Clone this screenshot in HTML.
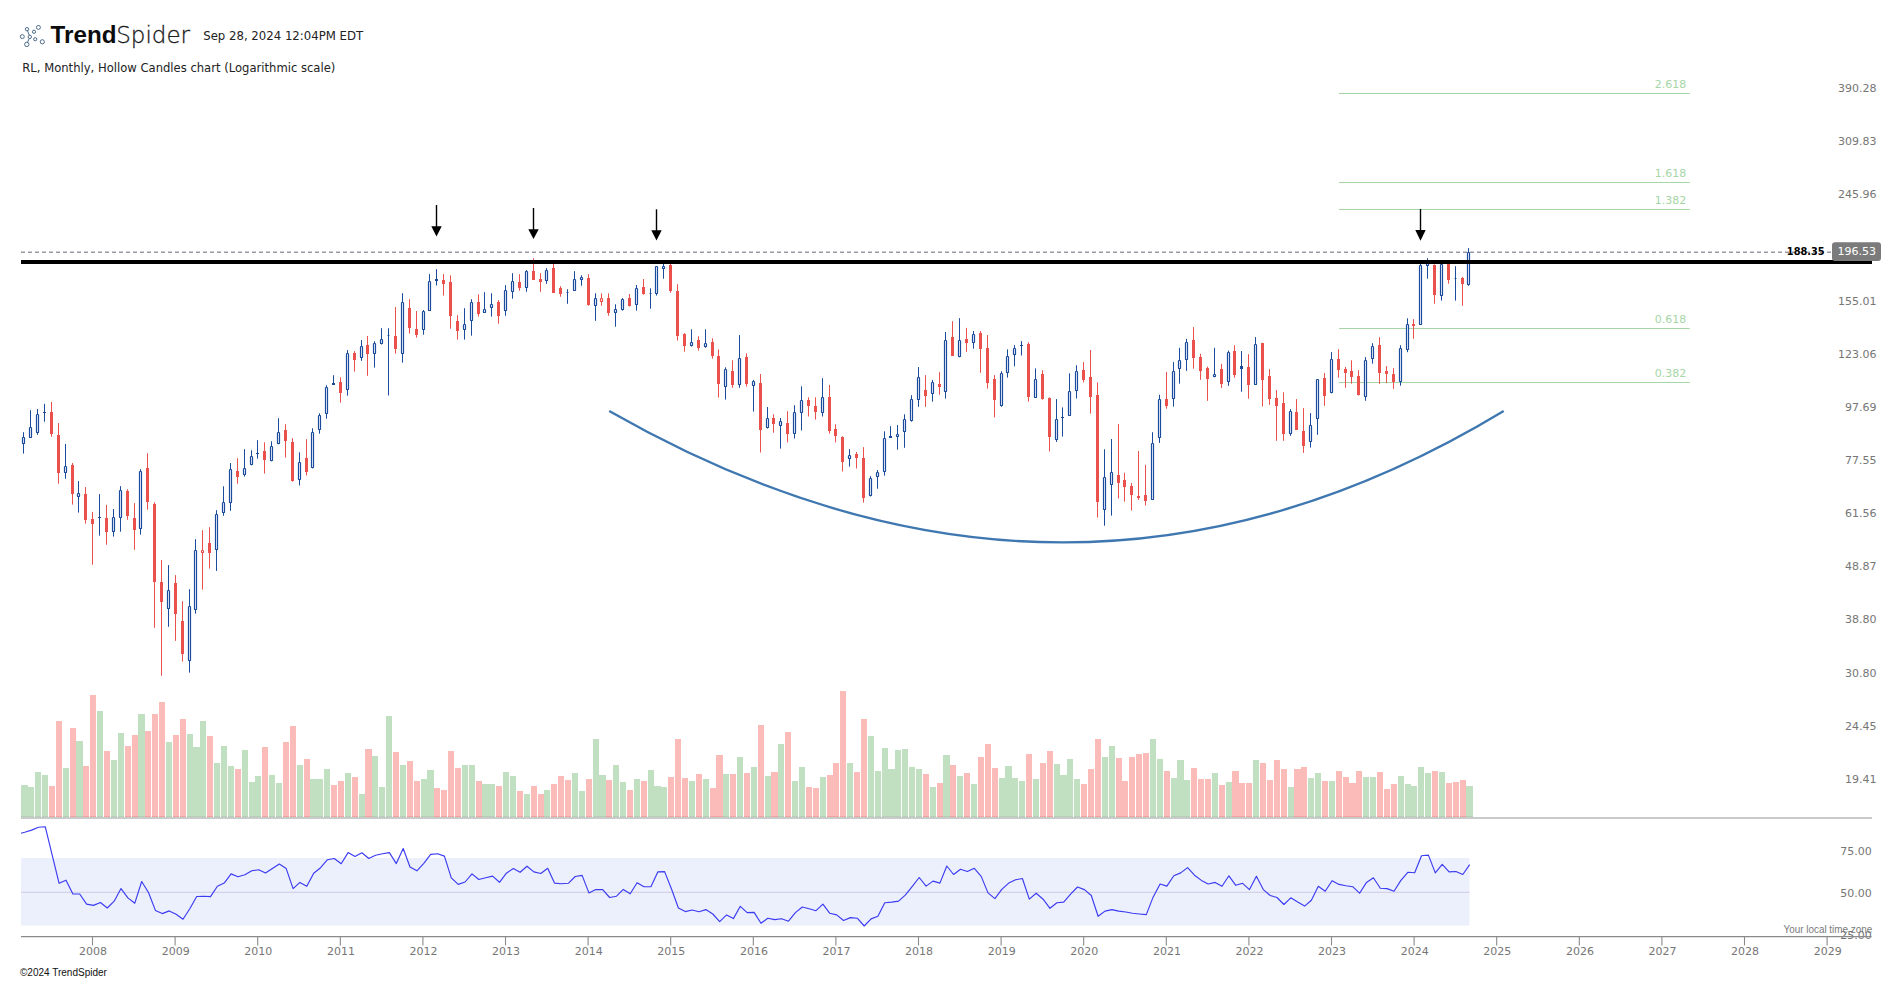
<!DOCTYPE html>
<html lang="en"><head><meta charset="utf-8"><title>RL Monthly - TrendSpider</title>
<style>html,body{margin:0;padding:0;background:#fff;}body{width:1902px;height:982px;overflow:hidden;}svg{display:block;}text{font-family:'DejaVu Sans', 'Liberation Sans', sans-serif;}</style></head><body>
<svg width="1902" height="982" viewBox="0 0 1902 982">
<rect width="1902" height="982" fill="#fff"/>
<g id="rsi">
<rect x="21" y="858" width="1448.5" height="67.5" fill="#eceffc"/>
<line x1="21" y1="892.4" x2="1469.5" y2="892.4" stroke="#d3d2e8" stroke-width="1.4"/>
<polyline points="21,833.2 24.7,832.2 31.6,830.1 38.5,827.2 45.3,826.8 52.2,855.1 59.1,883.3 66.0,880.2 72.9,894.0 79.7,894.0 86.6,904.1 93.5,905.4 100.4,902.5 107.3,908.0 114.2,901.2 121.0,888.6 127.9,897.9 134.8,903.2 141.7,881.5 148.6,892.7 155.4,910.4 162.3,913.6 169.2,910.9 176.1,914.3 183.0,919.2 189.8,908.7 196.7,896.5 203.6,896.2 210.5,896.6 217.4,886.3 224.2,883.1 231.1,873.9 238.0,876.8 244.9,874.8 251.8,870.8 258.7,869.8 265.5,873.1 272.4,868.6 279.3,864.0 286.2,868.6 293.1,888.6 299.9,882.4 306.8,886.3 313.7,873.2 320.6,867.7 327.5,859.7 334.3,858.5 341.2,863.7 348.1,852.6 355.0,856.5 361.9,852.8 368.8,858.5 375.6,855.2 382.5,853.8 389.4,852.6 396.3,863.6 403.2,848.5 410.0,867.0 416.9,870.8 423.8,863.3 430.7,854.4 437.6,853.8 444.4,856.1 451.3,877.8 458.2,884.4 465.1,882.0 472.0,873.9 478.8,879.5 485.7,877.8 492.6,876.1 499.5,882.3 506.4,873.2 513.3,868.6 520.1,872.3 527.0,866.2 533.9,871.9 540.8,873.5 547.7,868.3 554.5,883.1 561.4,883.7 568.3,883.3 575.2,876.5 582.1,875.4 588.9,892.9 595.8,889.6 602.7,889.6 609.6,897.5 616.5,896.2 623.3,889.4 630.2,893.8 637.1,882.7 644.0,886.7 650.9,886.7 657.8,871.9 664.6,871.6 671.5,889.0 678.4,908.0 685.3,911.6 692.2,910.0 699.0,911.7 705.9,909.6 712.8,914.0 719.7,921.6 726.6,914.9 733.4,918.6 740.3,906.3 747.2,912.6 754.1,912.4 761.0,923.2 767.8,918.2 774.7,919.6 781.6,918.7 788.5,921.2 795.4,912.6 802.3,907.0 809.1,908.7 816.0,910.7 822.9,904.1 829.8,913.3 836.7,914.9 843.5,920.5 850.4,917.6 857.3,918.2 864.2,926.0 871.1,918.9 877.9,916.2 884.8,902.8 891.7,902.1 898.6,901.1 905.5,894.9 912.3,886.3 919.2,877.5 926.1,886.1 933.0,881.1 939.9,883.1 946.8,866.0 953.6,874.5 960.5,869.3 967.4,871.5 974.3,868.3 981.2,876.4 988.0,892.9 994.9,898.6 1001.8,889.4 1008.7,883.1 1015.6,879.8 1022.4,878.5 1029.3,899.1 1036.2,893.2 1043.1,899.2 1050.0,908.3 1056.9,902.8 1063.7,902.1 1070.6,894.2 1077.5,887.0 1084.4,889.6 1091.3,895.5 1098.1,916.3 1105.0,911.1 1111.9,909.6 1118.8,911.1 1125.7,912.0 1132.5,913.3 1139.4,914.0 1146.3,914.6 1153.2,896.9 1160.1,884.0 1166.9,886.1 1173.8,875.8 1180.7,872.9 1187.6,867.6 1194.5,875.2 1201.4,880.4 1208.2,884.0 1215.1,882.4 1222.0,886.3 1228.9,875.8 1235.8,885.3 1242.6,883.3 1249.5,889.6 1256.4,876.2 1263.3,889.6 1270.2,895.5 1277.0,897.5 1283.9,904.5 1290.8,897.8 1297.7,902.1 1304.6,906.1 1311.4,900.2 1318.3,886.3 1325.2,891.2 1332.1,880.7 1339.0,884.4 1345.9,885.7 1352.7,886.7 1359.6,893.2 1366.5,882.4 1373.4,877.8 1380.3,888.3 1387.1,888.6 1394.0,891.3 1400.9,880.4 1407.8,872.3 1414.7,872.8 1421.5,855.7 1428.4,855.1 1435.3,872.9 1442.2,864.3 1449.1,871.9 1455.9,871.5 1462.8,874.5 1469.7,864.7" fill="none" stroke="#3b3bf2" stroke-width="1.15" stroke-linejoin="round"/>
</g>
<g id="volume" shape-rendering="crispEdges">
<rect x="21" y="784.9" width="7" height="32.1" fill="#c1e0c1"/>
<rect x="21" y="816" width="7" height="1" fill="#b6cdb6"/>
<rect x="28" y="787.0" width="6" height="30.0" fill="#c1e0c1"/>
<rect x="28" y="816" width="6" height="1" fill="#b6cdb6"/>
<rect x="35" y="772.0" width="6" height="45.0" fill="#c1e0c1"/>
<rect x="35" y="816" width="6" height="1" fill="#b6cdb6"/>
<rect x="42" y="775.0" width="6" height="42.0" fill="#c1e0c1"/>
<rect x="42" y="816" width="6" height="1" fill="#b6cdb6"/>
<rect x="49" y="785.9" width="6" height="31.1" fill="#fbbcb9"/>
<rect x="49" y="816" width="6" height="1" fill="#f2a3a0"/>
<rect x="56" y="721.0" width="6" height="96.0" fill="#fbbcb9"/>
<rect x="56" y="816" width="6" height="1" fill="#f2a3a0"/>
<rect x="63" y="768.1" width="6" height="48.9" fill="#c1e0c1"/>
<rect x="63" y="816" width="6" height="1" fill="#b6cdb6"/>
<rect x="70" y="728.0" width="6" height="89.0" fill="#fbbcb9"/>
<rect x="70" y="816" width="6" height="1" fill="#f2a3a0"/>
<rect x="76" y="741.1" width="7" height="75.9" fill="#c1e0c1"/>
<rect x="76" y="816" width="7" height="1" fill="#b6cdb6"/>
<rect x="83" y="766.0" width="6" height="51.0" fill="#fbbcb9"/>
<rect x="83" y="816" width="6" height="1" fill="#f2a3a0"/>
<rect x="90" y="695.0" width="6" height="122.0" fill="#fbbcb9"/>
<rect x="90" y="816" width="6" height="1" fill="#f2a3a0"/>
<rect x="97" y="711.1" width="6" height="105.9" fill="#c1e0c1"/>
<rect x="97" y="816" width="6" height="1" fill="#b6cdb6"/>
<rect x="104" y="751.0" width="6" height="66.0" fill="#fbbcb9"/>
<rect x="104" y="816" width="6" height="1" fill="#f2a3a0"/>
<rect x="111" y="760.0" width="6" height="57.0" fill="#c1e0c1"/>
<rect x="111" y="816" width="6" height="1" fill="#b6cdb6"/>
<rect x="118" y="733.0" width="6" height="84.0" fill="#c1e0c1"/>
<rect x="118" y="816" width="6" height="1" fill="#b6cdb6"/>
<rect x="125" y="746.0" width="6" height="71.0" fill="#fbbcb9"/>
<rect x="125" y="816" width="6" height="1" fill="#f2a3a0"/>
<rect x="132" y="735.1" width="6" height="81.9" fill="#fbbcb9"/>
<rect x="132" y="816" width="6" height="1" fill="#f2a3a0"/>
<rect x="138" y="714.1" width="7" height="102.9" fill="#c1e0c1"/>
<rect x="138" y="816" width="7" height="1" fill="#b6cdb6"/>
<rect x="145" y="731.0" width="6" height="86.0" fill="#fbbcb9"/>
<rect x="145" y="816" width="6" height="1" fill="#f2a3a0"/>
<rect x="152" y="714.1" width="6" height="102.9" fill="#fbbcb9"/>
<rect x="152" y="816" width="6" height="1" fill="#f2a3a0"/>
<rect x="159" y="702.1" width="6" height="114.9" fill="#fbbcb9"/>
<rect x="159" y="816" width="6" height="1" fill="#f2a3a0"/>
<rect x="166" y="742.0" width="6" height="75.0" fill="#c1e0c1"/>
<rect x="166" y="816" width="6" height="1" fill="#b6cdb6"/>
<rect x="173" y="735.1" width="6" height="81.9" fill="#fbbcb9"/>
<rect x="173" y="816" width="6" height="1" fill="#f2a3a0"/>
<rect x="180" y="719.0" width="6" height="98.0" fill="#fbbcb9"/>
<rect x="180" y="816" width="6" height="1" fill="#f2a3a0"/>
<rect x="187" y="734.0" width="6" height="83.0" fill="#c1e0c1"/>
<rect x="187" y="816" width="6" height="1" fill="#b6cdb6"/>
<rect x="193" y="747.1" width="7" height="69.9" fill="#c1e0c1"/>
<rect x="193" y="816" width="7" height="1" fill="#b6cdb6"/>
<rect x="200" y="721.0" width="6" height="96.0" fill="#c1e0c1"/>
<rect x="200" y="816" width="6" height="1" fill="#b6cdb6"/>
<rect x="207" y="736.0" width="6" height="81.0" fill="#fbbcb9"/>
<rect x="207" y="816" width="6" height="1" fill="#f2a3a0"/>
<rect x="214" y="763.0" width="6" height="54.0" fill="#c1e0c1"/>
<rect x="214" y="816" width="6" height="1" fill="#b6cdb6"/>
<rect x="221" y="746.0" width="6" height="71.0" fill="#c1e0c1"/>
<rect x="221" y="816" width="6" height="1" fill="#b6cdb6"/>
<rect x="228" y="766.0" width="6" height="51.0" fill="#c1e0c1"/>
<rect x="228" y="816" width="6" height="1" fill="#b6cdb6"/>
<rect x="235" y="769.0" width="6" height="48.0" fill="#fbbcb9"/>
<rect x="235" y="816" width="6" height="1" fill="#f2a3a0"/>
<rect x="242" y="749.9" width="6" height="67.1" fill="#c1e0c1"/>
<rect x="242" y="816" width="6" height="1" fill="#b6cdb6"/>
<rect x="249" y="781.9" width="6" height="35.1" fill="#c1e0c1"/>
<rect x="249" y="816" width="6" height="1" fill="#b6cdb6"/>
<rect x="255" y="775.9" width="6" height="41.1" fill="#c1e0c1"/>
<rect x="255" y="816" width="6" height="1" fill="#b6cdb6"/>
<rect x="262" y="747.1" width="6" height="69.9" fill="#fbbcb9"/>
<rect x="262" y="816" width="6" height="1" fill="#f2a3a0"/>
<rect x="269" y="775.0" width="6" height="42.0" fill="#c1e0c1"/>
<rect x="269" y="816" width="6" height="1" fill="#b6cdb6"/>
<rect x="276" y="782.9" width="6" height="34.1" fill="#c1e0c1"/>
<rect x="276" y="816" width="6" height="1" fill="#b6cdb6"/>
<rect x="283" y="742.0" width="6" height="75.0" fill="#fbbcb9"/>
<rect x="283" y="816" width="6" height="1" fill="#f2a3a0"/>
<rect x="290" y="726.1" width="6" height="90.9" fill="#fbbcb9"/>
<rect x="290" y="816" width="6" height="1" fill="#f2a3a0"/>
<rect x="297" y="764.9" width="6" height="52.1" fill="#c1e0c1"/>
<rect x="297" y="816" width="6" height="1" fill="#b6cdb6"/>
<rect x="304" y="758.9" width="6" height="58.1" fill="#fbbcb9"/>
<rect x="304" y="816" width="6" height="1" fill="#f2a3a0"/>
<rect x="310" y="778.9" width="7" height="38.1" fill="#c1e0c1"/>
<rect x="310" y="816" width="7" height="1" fill="#b6cdb6"/>
<rect x="317" y="778.9" width="6" height="38.1" fill="#c1e0c1"/>
<rect x="317" y="816" width="6" height="1" fill="#b6cdb6"/>
<rect x="324" y="769.0" width="6" height="48.0" fill="#c1e0c1"/>
<rect x="324" y="816" width="6" height="1" fill="#b6cdb6"/>
<rect x="331" y="784.9" width="6" height="32.1" fill="#fbbcb9"/>
<rect x="331" y="816" width="6" height="1" fill="#f2a3a0"/>
<rect x="338" y="781.0" width="6" height="36.0" fill="#fbbcb9"/>
<rect x="338" y="816" width="6" height="1" fill="#f2a3a0"/>
<rect x="345" y="772.9" width="6" height="44.1" fill="#c1e0c1"/>
<rect x="345" y="816" width="6" height="1" fill="#b6cdb6"/>
<rect x="352" y="776.9" width="6" height="40.1" fill="#fbbcb9"/>
<rect x="352" y="816" width="6" height="1" fill="#f2a3a0"/>
<rect x="359" y="793.9" width="6" height="23.1" fill="#c1e0c1"/>
<rect x="359" y="816" width="6" height="1" fill="#b6cdb6"/>
<rect x="365" y="749.0" width="7" height="68.0" fill="#fbbcb9"/>
<rect x="365" y="816" width="7" height="1" fill="#f2a3a0"/>
<rect x="372" y="755.9" width="6" height="61.1" fill="#c1e0c1"/>
<rect x="372" y="816" width="6" height="1" fill="#b6cdb6"/>
<rect x="379" y="787.0" width="6" height="30.0" fill="#c1e0c1"/>
<rect x="379" y="816" width="6" height="1" fill="#b6cdb6"/>
<rect x="386" y="716.0" width="6" height="101.0" fill="#c1e0c1"/>
<rect x="386" y="816" width="6" height="1" fill="#b6cdb6"/>
<rect x="393" y="752.0" width="6" height="65.0" fill="#fbbcb9"/>
<rect x="393" y="816" width="6" height="1" fill="#f2a3a0"/>
<rect x="400" y="764.9" width="6" height="52.1" fill="#c1e0c1"/>
<rect x="400" y="816" width="6" height="1" fill="#b6cdb6"/>
<rect x="407" y="761.0" width="6" height="56.0" fill="#fbbcb9"/>
<rect x="407" y="816" width="6" height="1" fill="#f2a3a0"/>
<rect x="414" y="781.0" width="6" height="36.0" fill="#fbbcb9"/>
<rect x="414" y="816" width="6" height="1" fill="#f2a3a0"/>
<rect x="421" y="778.9" width="6" height="38.1" fill="#c1e0c1"/>
<rect x="421" y="816" width="6" height="1" fill="#b6cdb6"/>
<rect x="427" y="769.9" width="7" height="47.1" fill="#c1e0c1"/>
<rect x="427" y="816" width="7" height="1" fill="#b6cdb6"/>
<rect x="434" y="787.9" width="6" height="29.1" fill="#fbbcb9"/>
<rect x="434" y="816" width="6" height="1" fill="#f2a3a0"/>
<rect x="441" y="790.0" width="6" height="27.0" fill="#fbbcb9"/>
<rect x="441" y="816" width="6" height="1" fill="#f2a3a0"/>
<rect x="448" y="751.0" width="6" height="66.0" fill="#fbbcb9"/>
<rect x="448" y="816" width="6" height="1" fill="#f2a3a0"/>
<rect x="455" y="767.9" width="6" height="49.1" fill="#fbbcb9"/>
<rect x="455" y="816" width="6" height="1" fill="#f2a3a0"/>
<rect x="462" y="764.9" width="6" height="52.1" fill="#c1e0c1"/>
<rect x="462" y="816" width="6" height="1" fill="#b6cdb6"/>
<rect x="469" y="764.9" width="6" height="52.1" fill="#c1e0c1"/>
<rect x="469" y="816" width="6" height="1" fill="#b6cdb6"/>
<rect x="476" y="781.0" width="6" height="36.0" fill="#fbbcb9"/>
<rect x="476" y="816" width="6" height="1" fill="#f2a3a0"/>
<rect x="482" y="784.0" width="7" height="33.0" fill="#c1e0c1"/>
<rect x="482" y="816" width="7" height="1" fill="#b6cdb6"/>
<rect x="489" y="784.0" width="6" height="33.0" fill="#c1e0c1"/>
<rect x="489" y="816" width="6" height="1" fill="#b6cdb6"/>
<rect x="496" y="785.9" width="6" height="31.1" fill="#fbbcb9"/>
<rect x="496" y="816" width="6" height="1" fill="#f2a3a0"/>
<rect x="503" y="772.0" width="6" height="45.0" fill="#c1e0c1"/>
<rect x="503" y="816" width="6" height="1" fill="#b6cdb6"/>
<rect x="510" y="775.9" width="6" height="41.1" fill="#c1e0c1"/>
<rect x="510" y="816" width="6" height="1" fill="#b6cdb6"/>
<rect x="517" y="790.9" width="6" height="26.1" fill="#fbbcb9"/>
<rect x="517" y="816" width="6" height="1" fill="#f2a3a0"/>
<rect x="524" y="793.9" width="6" height="23.1" fill="#c1e0c1"/>
<rect x="524" y="816" width="6" height="1" fill="#b6cdb6"/>
<rect x="531" y="785.9" width="6" height="31.1" fill="#fbbcb9"/>
<rect x="531" y="816" width="6" height="1" fill="#f2a3a0"/>
<rect x="538" y="793.9" width="6" height="23.1" fill="#fbbcb9"/>
<rect x="538" y="816" width="6" height="1" fill="#f2a3a0"/>
<rect x="544" y="790.0" width="6" height="27.0" fill="#c1e0c1"/>
<rect x="544" y="816" width="6" height="1" fill="#b6cdb6"/>
<rect x="551" y="784.0" width="6" height="33.0" fill="#fbbcb9"/>
<rect x="551" y="816" width="6" height="1" fill="#f2a3a0"/>
<rect x="558" y="775.9" width="6" height="41.1" fill="#fbbcb9"/>
<rect x="558" y="816" width="6" height="1" fill="#f2a3a0"/>
<rect x="565" y="779.9" width="6" height="37.1" fill="#fbbcb9"/>
<rect x="565" y="816" width="6" height="1" fill="#f2a3a0"/>
<rect x="572" y="772.9" width="6" height="44.1" fill="#c1e0c1"/>
<rect x="572" y="816" width="6" height="1" fill="#b6cdb6"/>
<rect x="579" y="790.9" width="6" height="26.1" fill="#c1e0c1"/>
<rect x="579" y="816" width="6" height="1" fill="#b6cdb6"/>
<rect x="586" y="778.9" width="6" height="38.1" fill="#fbbcb9"/>
<rect x="586" y="816" width="6" height="1" fill="#f2a3a0"/>
<rect x="593" y="739.0" width="6" height="78.0" fill="#c1e0c1"/>
<rect x="593" y="816" width="6" height="1" fill="#b6cdb6"/>
<rect x="599" y="775.0" width="7" height="42.0" fill="#c1e0c1"/>
<rect x="599" y="816" width="7" height="1" fill="#b6cdb6"/>
<rect x="606" y="779.9" width="6" height="37.1" fill="#fbbcb9"/>
<rect x="606" y="816" width="6" height="1" fill="#f2a3a0"/>
<rect x="613" y="764.9" width="6" height="52.1" fill="#c1e0c1"/>
<rect x="613" y="816" width="6" height="1" fill="#b6cdb6"/>
<rect x="620" y="781.9" width="6" height="35.1" fill="#c1e0c1"/>
<rect x="620" y="816" width="6" height="1" fill="#b6cdb6"/>
<rect x="627" y="790.0" width="6" height="27.0" fill="#fbbcb9"/>
<rect x="627" y="816" width="6" height="1" fill="#f2a3a0"/>
<rect x="634" y="778.9" width="6" height="38.1" fill="#c1e0c1"/>
<rect x="634" y="816" width="6" height="1" fill="#b6cdb6"/>
<rect x="641" y="781.0" width="6" height="36.0" fill="#fbbcb9"/>
<rect x="641" y="816" width="6" height="1" fill="#f2a3a0"/>
<rect x="648" y="769.9" width="6" height="47.1" fill="#c1e0c1"/>
<rect x="648" y="816" width="6" height="1" fill="#b6cdb6"/>
<rect x="654" y="785.9" width="7" height="31.1" fill="#c1e0c1"/>
<rect x="654" y="816" width="7" height="1" fill="#b6cdb6"/>
<rect x="661" y="787.0" width="6" height="30.0" fill="#c1e0c1"/>
<rect x="661" y="816" width="6" height="1" fill="#b6cdb6"/>
<rect x="668" y="776.9" width="6" height="40.1" fill="#fbbcb9"/>
<rect x="668" y="816" width="6" height="1" fill="#f2a3a0"/>
<rect x="675" y="739.0" width="6" height="78.0" fill="#fbbcb9"/>
<rect x="675" y="816" width="6" height="1" fill="#f2a3a0"/>
<rect x="682" y="778.0" width="6" height="39.0" fill="#fbbcb9"/>
<rect x="682" y="816" width="6" height="1" fill="#f2a3a0"/>
<rect x="689" y="781.0" width="6" height="36.0" fill="#c1e0c1"/>
<rect x="689" y="816" width="6" height="1" fill="#b6cdb6"/>
<rect x="696" y="773.9" width="6" height="43.1" fill="#fbbcb9"/>
<rect x="696" y="816" width="6" height="1" fill="#f2a3a0"/>
<rect x="703" y="778.9" width="6" height="38.1" fill="#c1e0c1"/>
<rect x="703" y="816" width="6" height="1" fill="#b6cdb6"/>
<rect x="710" y="787.9" width="6" height="29.1" fill="#fbbcb9"/>
<rect x="710" y="816" width="6" height="1" fill="#f2a3a0"/>
<rect x="716" y="755.0" width="7" height="62.0" fill="#fbbcb9"/>
<rect x="716" y="816" width="7" height="1" fill="#f2a3a0"/>
<rect x="723" y="773.9" width="6" height="43.1" fill="#c1e0c1"/>
<rect x="723" y="816" width="6" height="1" fill="#b6cdb6"/>
<rect x="730" y="773.9" width="6" height="43.1" fill="#fbbcb9"/>
<rect x="730" y="816" width="6" height="1" fill="#f2a3a0"/>
<rect x="737" y="757.0" width="6" height="60.0" fill="#c1e0c1"/>
<rect x="737" y="816" width="6" height="1" fill="#b6cdb6"/>
<rect x="744" y="772.9" width="6" height="44.1" fill="#fbbcb9"/>
<rect x="744" y="816" width="6" height="1" fill="#f2a3a0"/>
<rect x="751" y="766.9" width="6" height="50.1" fill="#c1e0c1"/>
<rect x="751" y="816" width="6" height="1" fill="#b6cdb6"/>
<rect x="758" y="725.0" width="6" height="92.0" fill="#fbbcb9"/>
<rect x="758" y="816" width="6" height="1" fill="#f2a3a0"/>
<rect x="765" y="775.9" width="6" height="41.1" fill="#c1e0c1"/>
<rect x="765" y="816" width="6" height="1" fill="#b6cdb6"/>
<rect x="771" y="772.0" width="7" height="45.0" fill="#fbbcb9"/>
<rect x="771" y="816" width="7" height="1" fill="#f2a3a0"/>
<rect x="778" y="743.9" width="6" height="73.1" fill="#c1e0c1"/>
<rect x="778" y="816" width="6" height="1" fill="#b6cdb6"/>
<rect x="785" y="731.9" width="6" height="85.1" fill="#fbbcb9"/>
<rect x="785" y="816" width="6" height="1" fill="#f2a3a0"/>
<rect x="792" y="781.0" width="6" height="36.0" fill="#c1e0c1"/>
<rect x="792" y="816" width="6" height="1" fill="#b6cdb6"/>
<rect x="799" y="766.9" width="6" height="50.1" fill="#c1e0c1"/>
<rect x="799" y="816" width="6" height="1" fill="#b6cdb6"/>
<rect x="806" y="787.0" width="6" height="30.0" fill="#fbbcb9"/>
<rect x="806" y="816" width="6" height="1" fill="#f2a3a0"/>
<rect x="813" y="787.9" width="6" height="29.1" fill="#fbbcb9"/>
<rect x="813" y="816" width="6" height="1" fill="#f2a3a0"/>
<rect x="820" y="776.9" width="6" height="40.1" fill="#c1e0c1"/>
<rect x="820" y="816" width="6" height="1" fill="#b6cdb6"/>
<rect x="827" y="775.0" width="6" height="42.0" fill="#fbbcb9"/>
<rect x="827" y="816" width="6" height="1" fill="#f2a3a0"/>
<rect x="833" y="763.0" width="6" height="54.0" fill="#fbbcb9"/>
<rect x="833" y="816" width="6" height="1" fill="#f2a3a0"/>
<rect x="840" y="691.0" width="6" height="126.0" fill="#fbbcb9"/>
<rect x="840" y="816" width="6" height="1" fill="#f2a3a0"/>
<rect x="847" y="763.0" width="6" height="54.0" fill="#c1e0c1"/>
<rect x="847" y="816" width="6" height="1" fill="#b6cdb6"/>
<rect x="854" y="772.0" width="6" height="45.0" fill="#fbbcb9"/>
<rect x="854" y="816" width="6" height="1" fill="#f2a3a0"/>
<rect x="861" y="719.0" width="6" height="98.0" fill="#fbbcb9"/>
<rect x="861" y="816" width="6" height="1" fill="#f2a3a0"/>
<rect x="868" y="736.0" width="6" height="81.0" fill="#c1e0c1"/>
<rect x="868" y="816" width="6" height="1" fill="#b6cdb6"/>
<rect x="875" y="770.9" width="6" height="46.1" fill="#c1e0c1"/>
<rect x="875" y="816" width="6" height="1" fill="#b6cdb6"/>
<rect x="882" y="748.0" width="6" height="69.0" fill="#c1e0c1"/>
<rect x="882" y="816" width="6" height="1" fill="#b6cdb6"/>
<rect x="888" y="769.0" width="7" height="48.0" fill="#c1e0c1"/>
<rect x="888" y="816" width="7" height="1" fill="#b6cdb6"/>
<rect x="895" y="749.9" width="6" height="67.1" fill="#c1e0c1"/>
<rect x="895" y="816" width="6" height="1" fill="#b6cdb6"/>
<rect x="902" y="749.0" width="6" height="68.0" fill="#c1e0c1"/>
<rect x="902" y="816" width="6" height="1" fill="#b6cdb6"/>
<rect x="909" y="766.9" width="6" height="50.1" fill="#c1e0c1"/>
<rect x="909" y="816" width="6" height="1" fill="#b6cdb6"/>
<rect x="916" y="769.0" width="6" height="48.0" fill="#c1e0c1"/>
<rect x="916" y="816" width="6" height="1" fill="#b6cdb6"/>
<rect x="923" y="773.9" width="6" height="43.1" fill="#fbbcb9"/>
<rect x="923" y="816" width="6" height="1" fill="#f2a3a0"/>
<rect x="930" y="787.0" width="6" height="30.0" fill="#c1e0c1"/>
<rect x="930" y="816" width="6" height="1" fill="#b6cdb6"/>
<rect x="937" y="782.9" width="6" height="34.1" fill="#fbbcb9"/>
<rect x="937" y="816" width="6" height="1" fill="#f2a3a0"/>
<rect x="943" y="755.0" width="7" height="62.0" fill="#c1e0c1"/>
<rect x="943" y="816" width="7" height="1" fill="#b6cdb6"/>
<rect x="950" y="764.9" width="6" height="52.1" fill="#fbbcb9"/>
<rect x="950" y="816" width="6" height="1" fill="#f2a3a0"/>
<rect x="957" y="775.9" width="6" height="41.1" fill="#c1e0c1"/>
<rect x="957" y="816" width="6" height="1" fill="#b6cdb6"/>
<rect x="964" y="772.9" width="6" height="44.1" fill="#fbbcb9"/>
<rect x="964" y="816" width="6" height="1" fill="#f2a3a0"/>
<rect x="971" y="784.0" width="6" height="33.0" fill="#c1e0c1"/>
<rect x="971" y="816" width="6" height="1" fill="#b6cdb6"/>
<rect x="978" y="757.0" width="6" height="60.0" fill="#fbbcb9"/>
<rect x="978" y="816" width="6" height="1" fill="#f2a3a0"/>
<rect x="985" y="743.9" width="6" height="73.1" fill="#fbbcb9"/>
<rect x="985" y="816" width="6" height="1" fill="#f2a3a0"/>
<rect x="992" y="767.9" width="6" height="49.1" fill="#fbbcb9"/>
<rect x="992" y="816" width="6" height="1" fill="#f2a3a0"/>
<rect x="999" y="778.0" width="6" height="39.0" fill="#c1e0c1"/>
<rect x="999" y="816" width="6" height="1" fill="#b6cdb6"/>
<rect x="1005" y="766.0" width="7" height="51.0" fill="#c1e0c1"/>
<rect x="1005" y="816" width="7" height="1" fill="#b6cdb6"/>
<rect x="1012" y="778.0" width="6" height="39.0" fill="#c1e0c1"/>
<rect x="1012" y="816" width="6" height="1" fill="#b6cdb6"/>
<rect x="1019" y="781.0" width="6" height="36.0" fill="#c1e0c1"/>
<rect x="1019" y="816" width="6" height="1" fill="#b6cdb6"/>
<rect x="1026" y="754.0" width="6" height="63.0" fill="#fbbcb9"/>
<rect x="1026" y="816" width="6" height="1" fill="#f2a3a0"/>
<rect x="1033" y="778.9" width="6" height="38.1" fill="#c1e0c1"/>
<rect x="1033" y="816" width="6" height="1" fill="#b6cdb6"/>
<rect x="1040" y="763.0" width="6" height="54.0" fill="#fbbcb9"/>
<rect x="1040" y="816" width="6" height="1" fill="#f2a3a0"/>
<rect x="1047" y="751.0" width="6" height="66.0" fill="#fbbcb9"/>
<rect x="1047" y="816" width="6" height="1" fill="#f2a3a0"/>
<rect x="1054" y="764.0" width="6" height="53.0" fill="#c1e0c1"/>
<rect x="1054" y="816" width="6" height="1" fill="#b6cdb6"/>
<rect x="1060" y="775.0" width="7" height="42.0" fill="#c1e0c1"/>
<rect x="1060" y="816" width="7" height="1" fill="#b6cdb6"/>
<rect x="1067" y="758.9" width="6" height="58.1" fill="#c1e0c1"/>
<rect x="1067" y="816" width="6" height="1" fill="#b6cdb6"/>
<rect x="1074" y="778.9" width="6" height="38.1" fill="#c1e0c1"/>
<rect x="1074" y="816" width="6" height="1" fill="#b6cdb6"/>
<rect x="1081" y="784.0" width="6" height="33.0" fill="#fbbcb9"/>
<rect x="1081" y="816" width="6" height="1" fill="#f2a3a0"/>
<rect x="1088" y="769.0" width="6" height="48.0" fill="#fbbcb9"/>
<rect x="1088" y="816" width="6" height="1" fill="#f2a3a0"/>
<rect x="1095" y="739.0" width="6" height="78.0" fill="#fbbcb9"/>
<rect x="1095" y="816" width="6" height="1" fill="#f2a3a0"/>
<rect x="1102" y="757.0" width="6" height="60.0" fill="#c1e0c1"/>
<rect x="1102" y="816" width="6" height="1" fill="#b6cdb6"/>
<rect x="1109" y="746.0" width="6" height="71.0" fill="#c1e0c1"/>
<rect x="1109" y="816" width="6" height="1" fill="#b6cdb6"/>
<rect x="1116" y="758.0" width="6" height="59.0" fill="#fbbcb9"/>
<rect x="1116" y="816" width="6" height="1" fill="#f2a3a0"/>
<rect x="1122" y="781.0" width="6" height="36.0" fill="#fbbcb9"/>
<rect x="1122" y="816" width="6" height="1" fill="#f2a3a0"/>
<rect x="1129" y="757.0" width="6" height="60.0" fill="#fbbcb9"/>
<rect x="1129" y="816" width="6" height="1" fill="#f2a3a0"/>
<rect x="1136" y="754.0" width="6" height="63.0" fill="#fbbcb9"/>
<rect x="1136" y="816" width="6" height="1" fill="#f2a3a0"/>
<rect x="1143" y="752.9" width="6" height="64.1" fill="#fbbcb9"/>
<rect x="1143" y="816" width="6" height="1" fill="#f2a3a0"/>
<rect x="1150" y="739.0" width="6" height="78.0" fill="#c1e0c1"/>
<rect x="1150" y="816" width="6" height="1" fill="#b6cdb6"/>
<rect x="1157" y="758.9" width="6" height="58.1" fill="#c1e0c1"/>
<rect x="1157" y="816" width="6" height="1" fill="#b6cdb6"/>
<rect x="1164" y="770.9" width="6" height="46.1" fill="#fbbcb9"/>
<rect x="1164" y="816" width="6" height="1" fill="#f2a3a0"/>
<rect x="1171" y="778.1" width="6" height="38.9" fill="#c1e0c1"/>
<rect x="1171" y="816" width="6" height="1" fill="#b6cdb6"/>
<rect x="1177" y="760.1" width="7" height="56.9" fill="#c1e0c1"/>
<rect x="1177" y="816" width="7" height="1" fill="#b6cdb6"/>
<rect x="1184" y="780.1" width="6" height="36.9" fill="#c1e0c1"/>
<rect x="1184" y="816" width="6" height="1" fill="#b6cdb6"/>
<rect x="1191" y="768.0" width="6" height="49.0" fill="#fbbcb9"/>
<rect x="1191" y="816" width="6" height="1" fill="#f2a3a0"/>
<rect x="1198" y="779.1" width="6" height="37.9" fill="#fbbcb9"/>
<rect x="1198" y="816" width="6" height="1" fill="#f2a3a0"/>
<rect x="1205" y="779.1" width="6" height="37.9" fill="#fbbcb9"/>
<rect x="1205" y="816" width="6" height="1" fill="#f2a3a0"/>
<rect x="1212" y="773.0" width="6" height="44.0" fill="#c1e0c1"/>
<rect x="1212" y="816" width="6" height="1" fill="#b6cdb6"/>
<rect x="1219" y="785.0" width="6" height="32.0" fill="#fbbcb9"/>
<rect x="1219" y="816" width="6" height="1" fill="#f2a3a0"/>
<rect x="1226" y="782.1" width="6" height="34.9" fill="#c1e0c1"/>
<rect x="1226" y="816" width="6" height="1" fill="#b6cdb6"/>
<rect x="1232" y="771.0" width="7" height="46.0" fill="#fbbcb9"/>
<rect x="1232" y="816" width="7" height="1" fill="#f2a3a0"/>
<rect x="1239" y="783.0" width="6" height="34.0" fill="#fbbcb9"/>
<rect x="1239" y="816" width="6" height="1" fill="#f2a3a0"/>
<rect x="1246" y="783.0" width="6" height="34.0" fill="#fbbcb9"/>
<rect x="1246" y="816" width="6" height="1" fill="#f2a3a0"/>
<rect x="1253" y="760.1" width="6" height="56.9" fill="#c1e0c1"/>
<rect x="1253" y="816" width="6" height="1" fill="#b6cdb6"/>
<rect x="1260" y="763.1" width="6" height="53.9" fill="#fbbcb9"/>
<rect x="1260" y="816" width="6" height="1" fill="#f2a3a0"/>
<rect x="1267" y="780.1" width="6" height="36.9" fill="#fbbcb9"/>
<rect x="1267" y="816" width="6" height="1" fill="#f2a3a0"/>
<rect x="1274" y="760.1" width="6" height="56.9" fill="#fbbcb9"/>
<rect x="1274" y="816" width="6" height="1" fill="#f2a3a0"/>
<rect x="1281" y="769.0" width="6" height="48.0" fill="#fbbcb9"/>
<rect x="1281" y="816" width="6" height="1" fill="#f2a3a0"/>
<rect x="1288" y="787.0" width="6" height="30.0" fill="#c1e0c1"/>
<rect x="1288" y="816" width="6" height="1" fill="#b6cdb6"/>
<rect x="1294" y="769.0" width="7" height="48.0" fill="#fbbcb9"/>
<rect x="1294" y="816" width="7" height="1" fill="#f2a3a0"/>
<rect x="1301" y="767.0" width="6" height="50.0" fill="#fbbcb9"/>
<rect x="1301" y="816" width="6" height="1" fill="#f2a3a0"/>
<rect x="1308" y="778.1" width="6" height="38.9" fill="#c1e0c1"/>
<rect x="1308" y="816" width="6" height="1" fill="#b6cdb6"/>
<rect x="1315" y="773.0" width="6" height="44.0" fill="#c1e0c1"/>
<rect x="1315" y="816" width="6" height="1" fill="#b6cdb6"/>
<rect x="1322" y="780.9" width="6" height="36.1" fill="#fbbcb9"/>
<rect x="1322" y="816" width="6" height="1" fill="#f2a3a0"/>
<rect x="1329" y="780.9" width="6" height="36.1" fill="#c1e0c1"/>
<rect x="1329" y="816" width="6" height="1" fill="#b6cdb6"/>
<rect x="1336" y="771.0" width="6" height="46.0" fill="#fbbcb9"/>
<rect x="1336" y="816" width="6" height="1" fill="#f2a3a0"/>
<rect x="1343" y="777.1" width="6" height="39.9" fill="#fbbcb9"/>
<rect x="1343" y="816" width="6" height="1" fill="#f2a3a0"/>
<rect x="1349" y="783.0" width="7" height="34.0" fill="#fbbcb9"/>
<rect x="1349" y="816" width="7" height="1" fill="#f2a3a0"/>
<rect x="1356" y="771.0" width="6" height="46.0" fill="#fbbcb9"/>
<rect x="1356" y="816" width="6" height="1" fill="#f2a3a0"/>
<rect x="1363" y="777.1" width="6" height="39.9" fill="#c1e0c1"/>
<rect x="1363" y="816" width="6" height="1" fill="#b6cdb6"/>
<rect x="1370" y="777.1" width="6" height="39.9" fill="#c1e0c1"/>
<rect x="1370" y="816" width="6" height="1" fill="#b6cdb6"/>
<rect x="1377" y="772.0" width="6" height="45.0" fill="#fbbcb9"/>
<rect x="1377" y="816" width="6" height="1" fill="#f2a3a0"/>
<rect x="1384" y="789.0" width="6" height="28.0" fill="#fbbcb9"/>
<rect x="1384" y="816" width="6" height="1" fill="#f2a3a0"/>
<rect x="1391" y="784.0" width="6" height="33.0" fill="#fbbcb9"/>
<rect x="1391" y="816" width="6" height="1" fill="#f2a3a0"/>
<rect x="1398" y="776.1" width="6" height="40.9" fill="#c1e0c1"/>
<rect x="1398" y="816" width="6" height="1" fill="#b6cdb6"/>
<rect x="1405" y="784.0" width="6" height="33.0" fill="#c1e0c1"/>
<rect x="1405" y="816" width="6" height="1" fill="#b6cdb6"/>
<rect x="1411" y="786.0" width="6" height="31.0" fill="#c1e0c1"/>
<rect x="1411" y="816" width="6" height="1" fill="#b6cdb6"/>
<rect x="1418" y="767.0" width="6" height="50.0" fill="#c1e0c1"/>
<rect x="1418" y="816" width="6" height="1" fill="#b6cdb6"/>
<rect x="1425" y="773.0" width="6" height="44.0" fill="#c1e0c1"/>
<rect x="1425" y="816" width="6" height="1" fill="#b6cdb6"/>
<rect x="1432" y="771.0" width="6" height="46.0" fill="#fbbcb9"/>
<rect x="1432" y="816" width="6" height="1" fill="#f2a3a0"/>
<rect x="1439" y="772.0" width="6" height="45.0" fill="#c1e0c1"/>
<rect x="1439" y="816" width="6" height="1" fill="#b6cdb6"/>
<rect x="1446" y="783.0" width="6" height="34.0" fill="#fbbcb9"/>
<rect x="1446" y="816" width="6" height="1" fill="#f2a3a0"/>
<rect x="1453" y="782.1" width="6" height="34.9" fill="#fbbcb9"/>
<rect x="1453" y="816" width="6" height="1" fill="#f2a3a0"/>
<rect x="1460" y="780.1" width="6" height="36.9" fill="#fbbcb9"/>
<rect x="1460" y="816" width="6" height="1" fill="#f2a3a0"/>
<rect x="1466" y="786.0" width="7" height="31.0" fill="#c1e0c1"/>
<rect x="1466" y="816" width="7" height="1" fill="#b6cdb6"/>
</g>
<rect x="21" y="817" width="1851" height="2" fill="#c9cbcb"/>
<g id="fib" font-size="11" fill="#a6d6a6" text-anchor="end">
<line x1="1339" y1="93.5" x2="1689.7" y2="93.5" stroke="#a6d6a6" stroke-width="1"/>
<text x="1686.3" y="88.1">2.618</text>
<line x1="1339" y1="182.5" x2="1689.7" y2="182.5" stroke="#a6d6a6" stroke-width="1"/>
<text x="1686.3" y="177.1">1.618</text>
<line x1="1339" y1="209.5" x2="1689.7" y2="209.5" stroke="#a6d6a6" stroke-width="1"/>
<text x="1686.3" y="204.1">1.382</text>
<line x1="1339" y1="328.5" x2="1689.7" y2="328.5" stroke="#a6d6a6" stroke-width="1"/>
<text x="1686.3" y="323.1">0.618</text>
<line x1="1339" y1="382.5" x2="1689.7" y2="382.5" stroke="#a6d6a6" stroke-width="1"/>
<text x="1686.3" y="377.1">0.382</text>
</g>
<path d="M609.2,411 Q1069,673.8 1503.7,411" fill="none" stroke="#3f77b0" stroke-width="2.3"/>
<line x1="21" y1="252.3" x2="1832" y2="252.3" stroke="#9a9aa2" stroke-width="1.4" stroke-dasharray="4 3"/>
<g id="candles">
<line x1="23.5" y1="432.2" x2="23.5" y2="437" stroke="#1a4b9c" stroke-width="1"/>
<line x1="23.5" y1="444" x2="23.5" y2="453.6" stroke="#1a4b9c" stroke-width="1"/>
<rect x="22.5" y="437.5" width="2" height="6" rx="0.6" fill="#fff" stroke="#1a4b9c" stroke-width="1.2"/>
<line x1="30.5" y1="410.2" x2="30.5" y2="427" stroke="#1a4b9c" stroke-width="1"/>
<rect x="29.5" y="427.5" width="2" height="10" rx="0.6" fill="#fff" stroke="#1a4b9c" stroke-width="1.2"/>
<line x1="37.5" y1="409.1" x2="37.5" y2="414" stroke="#1a4b9c" stroke-width="1"/>
<line x1="37.5" y1="433" x2="37.5" y2="434.8" stroke="#1a4b9c" stroke-width="1"/>
<rect x="36.5" y="414.5" width="2" height="18" rx="0.6" fill="#fff" stroke="#1a4b9c" stroke-width="1.2"/>
<line x1="44.5" y1="403.8" x2="44.5" y2="421.7" stroke="#1a4b9c" stroke-width="1"/>
<rect x="43" y="412.0" width="3" height="1" fill="#1a4b9c"/>
<line x1="51.5" y1="402.0" x2="51.5" y2="436.8" stroke="#ea504c" stroke-width="1"/>
<rect x="50" y="412" width="3" height="22" fill="#ea504c"/>
<line x1="58.5" y1="423.0" x2="58.5" y2="483.7" stroke="#ea504c" stroke-width="1"/>
<rect x="57" y="435" width="3" height="38" fill="#ea504c"/>
<line x1="65.5" y1="443.9" x2="65.5" y2="466" stroke="#1a4b9c" stroke-width="1"/>
<line x1="65.5" y1="473" x2="65.5" y2="478.7" stroke="#1a4b9c" stroke-width="1"/>
<rect x="64.5" y="466.5" width="2" height="6" rx="0.6" fill="#fff" stroke="#1a4b9c" stroke-width="1.2"/>
<line x1="72.5" y1="463.0" x2="72.5" y2="504.6" stroke="#ea504c" stroke-width="1"/>
<rect x="71" y="465" width="3" height="29" fill="#ea504c"/>
<line x1="78.5" y1="481.1" x2="78.5" y2="493" stroke="#1a4b9c" stroke-width="1"/>
<line x1="78.5" y1="497" x2="78.5" y2="512.6" stroke="#1a4b9c" stroke-width="1"/>
<rect x="77.5" y="493.5" width="2" height="3" rx="0.6" fill="#fff" stroke="#1a4b9c" stroke-width="1.2"/>
<line x1="85.5" y1="487.0" x2="85.5" y2="523.6" stroke="#ea504c" stroke-width="1"/>
<rect x="84" y="494" width="3" height="26" fill="#ea504c"/>
<line x1="92.5" y1="511.9" x2="92.5" y2="564.7" stroke="#ea504c" stroke-width="1"/>
<rect x="91" y="519" width="3" height="5" fill="#ea504c"/>
<line x1="99.5" y1="494.1" x2="99.5" y2="535.7" stroke="#1a4b9c" stroke-width="1"/>
<rect x="98" y="517" width="3" height="1" fill="#1a4b9c"/>
<line x1="106.5" y1="504.9" x2="106.5" y2="544.7" stroke="#ea504c" stroke-width="1"/>
<rect x="105" y="518" width="3" height="14" fill="#ea504c"/>
<line x1="113.5" y1="509.0" x2="113.5" y2="517" stroke="#1a4b9c" stroke-width="1"/>
<line x1="113.5" y1="532" x2="113.5" y2="536.6" stroke="#1a4b9c" stroke-width="1"/>
<rect x="112.5" y="517.5" width="2" height="14" rx="0.6" fill="#fff" stroke="#1a4b9c" stroke-width="1.2"/>
<line x1="120.5" y1="486.2" x2="120.5" y2="490" stroke="#1a4b9c" stroke-width="1"/>
<line x1="120.5" y1="518" x2="120.5" y2="531.7" stroke="#1a4b9c" stroke-width="1"/>
<rect x="119.5" y="490.5" width="2" height="27" rx="0.6" fill="#fff" stroke="#1a4b9c" stroke-width="1.2"/>
<line x1="127.5" y1="489.2" x2="127.5" y2="519.8" stroke="#ea504c" stroke-width="1"/>
<rect x="126" y="491" width="3" height="25" fill="#ea504c"/>
<line x1="134.5" y1="503.1" x2="134.5" y2="549.8" stroke="#ea504c" stroke-width="1"/>
<rect x="133" y="518" width="3" height="12" fill="#ea504c"/>
<line x1="140.5" y1="469.2" x2="140.5" y2="471" stroke="#1a4b9c" stroke-width="1"/>
<line x1="140.5" y1="529" x2="140.5" y2="534.6" stroke="#1a4b9c" stroke-width="1"/>
<rect x="139.5" y="471.5" width="2" height="57" rx="0.6" fill="#fff" stroke="#1a4b9c" stroke-width="1.2"/>
<line x1="147.5" y1="453.2" x2="147.5" y2="509.7" stroke="#ea504c" stroke-width="1"/>
<rect x="146" y="468" width="3" height="34" fill="#ea504c"/>
<line x1="154.5" y1="502.3" x2="154.5" y2="627.8" stroke="#ea504c" stroke-width="1"/>
<rect x="153" y="504" width="3" height="78" fill="#ea504c"/>
<line x1="161.5" y1="560.0" x2="161.5" y2="675.7" stroke="#ea504c" stroke-width="1"/>
<rect x="160" y="582" width="3" height="20" fill="#ea504c"/>
<line x1="168.5" y1="565.1" x2="168.5" y2="590" stroke="#1a4b9c" stroke-width="1"/>
<line x1="168.5" y1="609" x2="168.5" y2="626.8" stroke="#1a4b9c" stroke-width="1"/>
<rect x="167.5" y="590.5" width="2" height="18" rx="0.6" fill="#fff" stroke="#1a4b9c" stroke-width="1.2"/>
<line x1="175.5" y1="575.1" x2="175.5" y2="640.8" stroke="#ea504c" stroke-width="1"/>
<rect x="174" y="583" width="3" height="31" fill="#ea504c"/>
<line x1="182.5" y1="601.2" x2="182.5" y2="661.7" stroke="#ea504c" stroke-width="1"/>
<rect x="181" y="621" width="3" height="33" fill="#ea504c"/>
<line x1="189.5" y1="589.2" x2="189.5" y2="606" stroke="#1a4b9c" stroke-width="1"/>
<line x1="189.5" y1="661" x2="189.5" y2="672.6" stroke="#1a4b9c" stroke-width="1"/>
<rect x="188.5" y="606.5" width="2" height="54" rx="0.6" fill="#fff" stroke="#1a4b9c" stroke-width="1.2"/>
<line x1="195.5" y1="539.2" x2="195.5" y2="550" stroke="#1a4b9c" stroke-width="1"/>
<line x1="195.5" y1="610" x2="195.5" y2="613.6" stroke="#1a4b9c" stroke-width="1"/>
<rect x="194.5" y="550.5" width="2" height="59" rx="0.6" fill="#fff" stroke="#1a4b9c" stroke-width="1.2"/>
<line x1="202.5" y1="530.2" x2="202.5" y2="550" stroke="#ea504c" stroke-width="1"/>
<line x1="202.5" y1="553" x2="202.5" y2="589.7" stroke="#ea504c" stroke-width="1"/>
<rect x="201.5" y="550.5" width="2" height="2" rx="0.6" fill="#fff" stroke="#ea504c" stroke-width="1.2"/>
<line x1="209.5" y1="527.2" x2="209.5" y2="568.6" stroke="#ea504c" stroke-width="1"/>
<rect x="208" y="543" width="3" height="10" fill="#ea504c"/>
<line x1="216.5" y1="510.2" x2="216.5" y2="514" stroke="#1a4b9c" stroke-width="1"/>
<line x1="216.5" y1="550" x2="216.5" y2="570.9" stroke="#1a4b9c" stroke-width="1"/>
<rect x="215.5" y="514.5" width="2" height="35" rx="0.6" fill="#fff" stroke="#1a4b9c" stroke-width="1.2"/>
<line x1="223.5" y1="486.3" x2="223.5" y2="502" stroke="#1a4b9c" stroke-width="1"/>
<line x1="223.5" y1="513" x2="223.5" y2="515.8" stroke="#1a4b9c" stroke-width="1"/>
<rect x="222.5" y="502.5" width="2" height="10" rx="0.6" fill="#fff" stroke="#1a4b9c" stroke-width="1.2"/>
<line x1="230.5" y1="463.1" x2="230.5" y2="469" stroke="#1a4b9c" stroke-width="1"/>
<line x1="230.5" y1="503" x2="230.5" y2="510.8" stroke="#1a4b9c" stroke-width="1"/>
<rect x="229.5" y="469.5" width="2" height="33" rx="0.6" fill="#fff" stroke="#1a4b9c" stroke-width="1.2"/>
<line x1="237.5" y1="458.2" x2="237.5" y2="483.7" stroke="#ea504c" stroke-width="1"/>
<rect x="236" y="471" width="3" height="6" fill="#ea504c"/>
<line x1="244.5" y1="449.2" x2="244.5" y2="468" stroke="#1a4b9c" stroke-width="1"/>
<line x1="244.5" y1="475" x2="244.5" y2="476.6" stroke="#1a4b9c" stroke-width="1"/>
<rect x="243.5" y="468.5" width="2" height="6" rx="0.6" fill="#fff" stroke="#1a4b9c" stroke-width="1.2"/>
<line x1="251.5" y1="450.3" x2="251.5" y2="456" stroke="#1a4b9c" stroke-width="1"/>
<line x1="251.5" y1="465" x2="251.5" y2="465.4" stroke="#1a4b9c" stroke-width="1"/>
<rect x="250.5" y="456.5" width="2" height="8" rx="0.6" fill="#fff" stroke="#1a4b9c" stroke-width="1.2"/>
<line x1="257.5" y1="440.2" x2="257.5" y2="458.6" stroke="#1a4b9c" stroke-width="1"/>
<rect x="256" y="453" width="3" height="1" fill="#1a4b9c"/>
<line x1="264.5" y1="442.3" x2="264.5" y2="473.6" stroke="#ea504c" stroke-width="1"/>
<rect x="263" y="451" width="3" height="9" fill="#ea504c"/>
<line x1="271.5" y1="441.3" x2="271.5" y2="446" stroke="#1a4b9c" stroke-width="1"/>
<line x1="271.5" y1="461" x2="271.5" y2="461.4" stroke="#1a4b9c" stroke-width="1"/>
<rect x="270.5" y="446.5" width="2" height="14" rx="0.6" fill="#fff" stroke="#1a4b9c" stroke-width="1.2"/>
<line x1="278.5" y1="418.2" x2="278.5" y2="432" stroke="#1a4b9c" stroke-width="1"/>
<line x1="278.5" y1="444" x2="278.5" y2="444.3" stroke="#1a4b9c" stroke-width="1"/>
<rect x="277.5" y="432.5" width="2" height="11" rx="0.6" fill="#fff" stroke="#1a4b9c" stroke-width="1.2"/>
<line x1="285.5" y1="424.2" x2="285.5" y2="457.6" stroke="#ea504c" stroke-width="1"/>
<rect x="284" y="430" width="3" height="11" fill="#ea504c"/>
<line x1="292.5" y1="438.2" x2="292.5" y2="481.7" stroke="#ea504c" stroke-width="1"/>
<rect x="291" y="442" width="3" height="39" fill="#ea504c"/>
<line x1="299.5" y1="452.3" x2="299.5" y2="462" stroke="#1a4b9c" stroke-width="1"/>
<line x1="299.5" y1="480" x2="299.5" y2="485.5" stroke="#1a4b9c" stroke-width="1"/>
<rect x="298.5" y="462.5" width="2" height="17" rx="0.6" fill="#fff" stroke="#1a4b9c" stroke-width="1.2"/>
<line x1="306.5" y1="439.2" x2="306.5" y2="475.5" stroke="#ea504c" stroke-width="1"/>
<rect x="305" y="458" width="3" height="14" fill="#ea504c"/>
<line x1="312.5" y1="428.3" x2="312.5" y2="432" stroke="#1a4b9c" stroke-width="1"/>
<line x1="312.5" y1="468" x2="312.5" y2="468.4" stroke="#1a4b9c" stroke-width="1"/>
<rect x="311.5" y="432.5" width="2" height="35" rx="0.6" fill="#fff" stroke="#1a4b9c" stroke-width="1.2"/>
<line x1="319.5" y1="413.3" x2="319.5" y2="415" stroke="#1a4b9c" stroke-width="1"/>
<line x1="319.5" y1="430" x2="319.5" y2="433.7" stroke="#1a4b9c" stroke-width="1"/>
<rect x="318.5" y="415.5" width="2" height="14" rx="0.6" fill="#fff" stroke="#1a4b9c" stroke-width="1.2"/>
<line x1="326.5" y1="385.3" x2="326.5" y2="387" stroke="#1a4b9c" stroke-width="1"/>
<line x1="326.5" y1="414" x2="326.5" y2="418.7" stroke="#1a4b9c" stroke-width="1"/>
<rect x="325.5" y="387.5" width="2" height="26" rx="0.6" fill="#fff" stroke="#1a4b9c" stroke-width="1.2"/>
<line x1="333.5" y1="375.2" x2="333.5" y2="384.6" stroke="#1a4b9c" stroke-width="1"/>
<rect x="332" y="383" width="3" height="2" fill="#1a4b9c"/>
<line x1="340.5" y1="377.3" x2="340.5" y2="402.7" stroke="#ea504c" stroke-width="1"/>
<rect x="339" y="382" width="3" height="11" fill="#ea504c"/>
<line x1="347.5" y1="350.1" x2="347.5" y2="353" stroke="#1a4b9c" stroke-width="1"/>
<line x1="347.5" y1="390" x2="347.5" y2="395.7" stroke="#1a4b9c" stroke-width="1"/>
<rect x="346.5" y="353.5" width="2" height="36" rx="0.6" fill="#fff" stroke="#1a4b9c" stroke-width="1.2"/>
<line x1="354.5" y1="351.1" x2="354.5" y2="371.6" stroke="#ea504c" stroke-width="1"/>
<rect x="353" y="353" width="3" height="7" fill="#ea504c"/>
<line x1="361.5" y1="340.1" x2="361.5" y2="346" stroke="#1a4b9c" stroke-width="1"/>
<line x1="361.5" y1="358" x2="361.5" y2="360.8" stroke="#1a4b9c" stroke-width="1"/>
<rect x="360.5" y="346.5" width="2" height="11" rx="0.6" fill="#fff" stroke="#1a4b9c" stroke-width="1.2"/>
<line x1="367.5" y1="336.0" x2="367.5" y2="375.8" stroke="#ea504c" stroke-width="1"/>
<rect x="366" y="345" width="3" height="9" fill="#ea504c"/>
<line x1="374.5" y1="341.2" x2="374.5" y2="343" stroke="#1a4b9c" stroke-width="1"/>
<line x1="374.5" y1="354" x2="374.5" y2="367.6" stroke="#1a4b9c" stroke-width="1"/>
<rect x="373.5" y="343.5" width="2" height="10" rx="0.6" fill="#fff" stroke="#1a4b9c" stroke-width="1.2"/>
<line x1="381.5" y1="328.2" x2="381.5" y2="339" stroke="#1a4b9c" stroke-width="1"/>
<line x1="381.5" y1="344" x2="381.5" y2="344.5" stroke="#1a4b9c" stroke-width="1"/>
<rect x="380.5" y="339.5" width="2" height="4" rx="0.6" fill="#fff" stroke="#1a4b9c" stroke-width="1.2"/>
<line x1="388.5" y1="328.2" x2="388.5" y2="395.5" stroke="#1a4b9c" stroke-width="1"/>
<rect x="387" y="335.0" width="3" height="1" fill="#1a4b9c" opacity="0.45"/>
<line x1="395.5" y1="307.0" x2="395.5" y2="353.6" stroke="#ea504c" stroke-width="1"/>
<rect x="394" y="336" width="3" height="13" fill="#ea504c"/>
<line x1="402.5" y1="293.2" x2="402.5" y2="302" stroke="#1a4b9c" stroke-width="1"/>
<line x1="402.5" y1="354" x2="402.5" y2="362.6" stroke="#1a4b9c" stroke-width="1"/>
<rect x="401.5" y="302.5" width="2" height="51" rx="0.6" fill="#fff" stroke="#1a4b9c" stroke-width="1.2"/>
<line x1="409.5" y1="299.2" x2="409.5" y2="333.7" stroke="#ea504c" stroke-width="1"/>
<rect x="408" y="308" width="3" height="20" fill="#ea504c"/>
<line x1="416.5" y1="311.1" x2="416.5" y2="337.7" stroke="#ea504c" stroke-width="1"/>
<rect x="415" y="329" width="3" height="6" fill="#ea504c"/>
<line x1="423.5" y1="310.0" x2="423.5" y2="311" stroke="#1a4b9c" stroke-width="1"/>
<line x1="423.5" y1="330" x2="423.5" y2="334.7" stroke="#1a4b9c" stroke-width="1"/>
<rect x="422.5" y="311.5" width="2" height="18" rx="0.6" fill="#fff" stroke="#1a4b9c" stroke-width="1.2"/>
<line x1="429.5" y1="274.1" x2="429.5" y2="281" stroke="#1a4b9c" stroke-width="1"/>
<rect x="428.5" y="281.5" width="2" height="29" rx="0.6" fill="#fff" stroke="#1a4b9c" stroke-width="1.2"/>
<line x1="436.5" y1="269.2" x2="436.5" y2="285.5" stroke="#1a4b9c" stroke-width="1"/>
<rect x="435" y="279" width="3" height="2" fill="#1a4b9c"/>
<line x1="443.5" y1="274.1" x2="443.5" y2="295.6" stroke="#ea504c" stroke-width="1"/>
<rect x="442" y="280" width="3" height="4" fill="#ea504c"/>
<line x1="450.5" y1="275.3" x2="450.5" y2="328.7" stroke="#ea504c" stroke-width="1"/>
<rect x="449" y="282" width="3" height="34" fill="#ea504c"/>
<line x1="457.5" y1="315.2" x2="457.5" y2="339.6" stroke="#ea504c" stroke-width="1"/>
<rect x="456" y="321" width="3" height="10" fill="#ea504c"/>
<line x1="464.5" y1="308.2" x2="464.5" y2="324" stroke="#1a4b9c" stroke-width="1"/>
<line x1="464.5" y1="330" x2="464.5" y2="339.6" stroke="#1a4b9c" stroke-width="1"/>
<rect x="463.5" y="324.5" width="2" height="5" rx="0.6" fill="#fff" stroke="#1a4b9c" stroke-width="1.2"/>
<line x1="471.5" y1="299.2" x2="471.5" y2="302" stroke="#1a4b9c" stroke-width="1"/>
<line x1="471.5" y1="321" x2="471.5" y2="335.7" stroke="#1a4b9c" stroke-width="1"/>
<rect x="470.5" y="302.5" width="2" height="18" rx="0.6" fill="#fff" stroke="#1a4b9c" stroke-width="1.2"/>
<line x1="478.5" y1="294.3" x2="478.5" y2="316.6" stroke="#ea504c" stroke-width="1"/>
<rect x="477" y="302" width="3" height="12" fill="#ea504c"/>
<line x1="484.5" y1="292.2" x2="484.5" y2="309" stroke="#1a4b9c" stroke-width="1"/>
<rect x="483.5" y="309.5" width="2" height="3" rx="0.6" fill="#fff" stroke="#1a4b9c" stroke-width="1.2"/>
<line x1="491.5" y1="293.3" x2="491.5" y2="304" stroke="#1a4b9c" stroke-width="1"/>
<line x1="491.5" y1="308" x2="491.5" y2="316.6" stroke="#1a4b9c" stroke-width="1"/>
<rect x="490.5" y="304.5" width="2" height="3" rx="0.6" fill="#fff" stroke="#1a4b9c" stroke-width="1.2"/>
<line x1="498.5" y1="300.2" x2="498.5" y2="323.7" stroke="#ea504c" stroke-width="1"/>
<rect x="497" y="302" width="3" height="14" fill="#ea504c"/>
<line x1="505.5" y1="285.2" x2="505.5" y2="290" stroke="#1a4b9c" stroke-width="1"/>
<line x1="505.5" y1="311" x2="505.5" y2="315.8" stroke="#1a4b9c" stroke-width="1"/>
<rect x="504.5" y="290.5" width="2" height="20" rx="0.6" fill="#fff" stroke="#1a4b9c" stroke-width="1.2"/>
<line x1="512.5" y1="273.2" x2="512.5" y2="281" stroke="#1a4b9c" stroke-width="1"/>
<line x1="512.5" y1="292" x2="512.5" y2="298.7" stroke="#1a4b9c" stroke-width="1"/>
<rect x="511.5" y="281.5" width="2" height="10" rx="0.6" fill="#fff" stroke="#1a4b9c" stroke-width="1.2"/>
<line x1="519.5" y1="274.2" x2="519.5" y2="290.7" stroke="#ea504c" stroke-width="1"/>
<rect x="518" y="282" width="3" height="6" fill="#ea504c"/>
<line x1="526.5" y1="270.1" x2="526.5" y2="271" stroke="#1a4b9c" stroke-width="1"/>
<line x1="526.5" y1="288" x2="526.5" y2="291.8" stroke="#1a4b9c" stroke-width="1"/>
<rect x="525.5" y="271.5" width="2" height="16" rx="0.6" fill="#fff" stroke="#1a4b9c" stroke-width="1.2"/>
<line x1="533.5" y1="258.2" x2="533.5" y2="279.9" stroke="#ea504c" stroke-width="1"/>
<rect x="532" y="271" width="3" height="9" fill="#ea504c"/>
<line x1="540.5" y1="273.2" x2="540.5" y2="291.8" stroke="#ea504c" stroke-width="1"/>
<rect x="539" y="279" width="3" height="3" fill="#ea504c"/>
<line x1="546.5" y1="268.2" x2="546.5" y2="270" stroke="#1a4b9c" stroke-width="1"/>
<line x1="546.5" y1="281" x2="546.5" y2="283.8" stroke="#1a4b9c" stroke-width="1"/>
<rect x="545.5" y="270.5" width="2" height="10" rx="0.6" fill="#fff" stroke="#1a4b9c" stroke-width="1.2"/>
<line x1="553.5" y1="263.8" x2="553.5" y2="292.8" stroke="#ea504c" stroke-width="1"/>
<rect x="552" y="268" width="3" height="25" fill="#ea504c"/>
<line x1="560.5" y1="286.2" x2="560.5" y2="296.7" stroke="#ea504c" stroke-width="1"/>
<rect x="559" y="288" width="3" height="6" fill="#ea504c"/>
<line x1="567.5" y1="289.2" x2="567.5" y2="303.8" stroke="#1a4b9c" stroke-width="1"/>
<rect x="566" y="292.0" width="3" height="1" fill="#1a4b9c" opacity="0.45"/>
<line x1="574.5" y1="271.2" x2="574.5" y2="279" stroke="#1a4b9c" stroke-width="1"/>
<rect x="573.5" y="279.5" width="2" height="11" rx="0.6" fill="#fff" stroke="#1a4b9c" stroke-width="1.2"/>
<line x1="581.5" y1="275.3" x2="581.5" y2="277" stroke="#1a4b9c" stroke-width="1"/>
<line x1="581.5" y1="280" x2="581.5" y2="285.7" stroke="#1a4b9c" stroke-width="1"/>
<rect x="580.5" y="277.5" width="2" height="2" rx="0.6" fill="#fff" stroke="#1a4b9c" stroke-width="1.2"/>
<line x1="588.5" y1="274.2" x2="588.5" y2="305.8" stroke="#ea504c" stroke-width="1"/>
<rect x="587" y="278" width="3" height="27" fill="#ea504c"/>
<line x1="595.5" y1="293.3" x2="595.5" y2="298" stroke="#1a4b9c" stroke-width="1"/>
<line x1="595.5" y1="306" x2="595.5" y2="320.8" stroke="#1a4b9c" stroke-width="1"/>
<rect x="594.5" y="298.5" width="2" height="7" rx="0.6" fill="#fff" stroke="#1a4b9c" stroke-width="1.2"/>
<line x1="601.5" y1="293.3" x2="601.5" y2="298" stroke="#ea504c" stroke-width="1"/>
<line x1="601.5" y1="302" x2="601.5" y2="305.8" stroke="#ea504c" stroke-width="1"/>
<rect x="600.5" y="298.5" width="2" height="3" rx="0.6" fill="#fff" stroke="#ea504c" stroke-width="1.2"/>
<line x1="608.5" y1="293.3" x2="608.5" y2="315.8" stroke="#ea504c" stroke-width="1"/>
<rect x="607" y="298" width="3" height="15" fill="#ea504c"/>
<line x1="615.5" y1="304.3" x2="615.5" y2="309" stroke="#1a4b9c" stroke-width="1"/>
<line x1="615.5" y1="313" x2="615.5" y2="326.7" stroke="#1a4b9c" stroke-width="1"/>
<rect x="614.5" y="309.5" width="2" height="3" rx="0.6" fill="#fff" stroke="#1a4b9c" stroke-width="1.2"/>
<line x1="622.5" y1="298.1" x2="622.5" y2="299" stroke="#1a4b9c" stroke-width="1"/>
<line x1="622.5" y1="310" x2="622.5" y2="310.6" stroke="#1a4b9c" stroke-width="1"/>
<rect x="621.5" y="299.5" width="2" height="10" rx="0.6" fill="#fff" stroke="#1a4b9c" stroke-width="1.2"/>
<line x1="629.5" y1="294.0" x2="629.5" y2="306.5" stroke="#ea504c" stroke-width="1"/>
<rect x="628" y="298" width="3" height="8" fill="#ea504c"/>
<line x1="636.5" y1="285.0" x2="636.5" y2="288" stroke="#1a4b9c" stroke-width="1"/>
<line x1="636.5" y1="305" x2="636.5" y2="310.6" stroke="#1a4b9c" stroke-width="1"/>
<rect x="635.5" y="288.5" width="2" height="16" rx="0.6" fill="#fff" stroke="#1a4b9c" stroke-width="1.2"/>
<line x1="643.5" y1="279.0" x2="643.5" y2="294.8" stroke="#ea504c" stroke-width="1"/>
<rect x="642" y="287" width="3" height="7" fill="#ea504c"/>
<line x1="650.5" y1="288.3" x2="650.5" y2="308.7" stroke="#1a4b9c" stroke-width="1"/>
<rect x="649" y="293.0" width="3" height="1" fill="#1a4b9c" opacity="0.45"/>
<line x1="656.5" y1="294" x2="656.5" y2="295.6" stroke="#1a4b9c" stroke-width="1"/>
<rect x="655.5" y="266.5" width="2" height="27" rx="0.6" fill="#fff" stroke="#1a4b9c" stroke-width="1.2"/>
<line x1="663.5" y1="264.0" x2="663.5" y2="266" stroke="#1a4b9c" stroke-width="1"/>
<line x1="663.5" y1="269" x2="663.5" y2="278.7" stroke="#1a4b9c" stroke-width="1"/>
<rect x="662.5" y="266.5" width="2" height="2" rx="0.6" fill="#fff" stroke="#1a4b9c" stroke-width="1.2"/>
<line x1="670.5" y1="264.0" x2="670.5" y2="292.7" stroke="#ea504c" stroke-width="1"/>
<rect x="669" y="265" width="3" height="26" fill="#ea504c"/>
<line x1="677.5" y1="284.2" x2="677.5" y2="340.6" stroke="#ea504c" stroke-width="1"/>
<rect x="676" y="291" width="3" height="45" fill="#ea504c"/>
<line x1="684.5" y1="333.1" x2="684.5" y2="351.7" stroke="#ea504c" stroke-width="1"/>
<rect x="683" y="334" width="3" height="12" fill="#ea504c"/>
<line x1="691.5" y1="329.3" x2="691.5" y2="342" stroke="#1a4b9c" stroke-width="1"/>
<line x1="691.5" y1="346" x2="691.5" y2="346.6" stroke="#1a4b9c" stroke-width="1"/>
<rect x="690.5" y="342.5" width="2" height="3" rx="0.6" fill="#fff" stroke="#1a4b9c" stroke-width="1.2"/>
<line x1="698.5" y1="336.3" x2="698.5" y2="350.7" stroke="#ea504c" stroke-width="1"/>
<rect x="697" y="340" width="3" height="8" fill="#ea504c"/>
<line x1="705.5" y1="329.3" x2="705.5" y2="343" stroke="#1a4b9c" stroke-width="1"/>
<line x1="705.5" y1="347" x2="705.5" y2="347.8" stroke="#1a4b9c" stroke-width="1"/>
<rect x="704.5" y="343.5" width="2" height="3" rx="0.6" fill="#fff" stroke="#1a4b9c" stroke-width="1.2"/>
<line x1="712.5" y1="338.3" x2="712.5" y2="358.7" stroke="#ea504c" stroke-width="1"/>
<rect x="711" y="342" width="3" height="14" fill="#ea504c"/>
<line x1="718.5" y1="349.4" x2="718.5" y2="397.6" stroke="#ea504c" stroke-width="1"/>
<rect x="717" y="356" width="3" height="28" fill="#ea504c"/>
<line x1="725.5" y1="367.3" x2="725.5" y2="369" stroke="#1a4b9c" stroke-width="1"/>
<line x1="725.5" y1="387" x2="725.5" y2="399.6" stroke="#1a4b9c" stroke-width="1"/>
<rect x="724.5" y="369.5" width="2" height="17" rx="0.6" fill="#fff" stroke="#1a4b9c" stroke-width="1.2"/>
<line x1="732.5" y1="360.3" x2="732.5" y2="387.7" stroke="#ea504c" stroke-width="1"/>
<rect x="731" y="371" width="3" height="14" fill="#ea504c"/>
<line x1="739.5" y1="335.1" x2="739.5" y2="358" stroke="#1a4b9c" stroke-width="1"/>
<line x1="739.5" y1="385" x2="739.5" y2="387.8" stroke="#1a4b9c" stroke-width="1"/>
<rect x="738.5" y="358.5" width="2" height="26" rx="0.6" fill="#fff" stroke="#1a4b9c" stroke-width="1.2"/>
<line x1="746.5" y1="353.3" x2="746.5" y2="386.5" stroke="#ea504c" stroke-width="1"/>
<rect x="745" y="357" width="3" height="27" fill="#ea504c"/>
<line x1="753.5" y1="379.9" x2="753.5" y2="381" stroke="#1a4b9c" stroke-width="1"/>
<line x1="753.5" y1="386" x2="753.5" y2="411.6" stroke="#1a4b9c" stroke-width="1"/>
<rect x="752.5" y="381.5" width="2" height="4" rx="0.6" fill="#fff" stroke="#1a4b9c" stroke-width="1.2"/>
<line x1="760.5" y1="374.0" x2="760.5" y2="452.5" stroke="#ea504c" stroke-width="1"/>
<rect x="759" y="383" width="3" height="47" fill="#ea504c"/>
<line x1="767.5" y1="407.0" x2="767.5" y2="418" stroke="#1a4b9c" stroke-width="1"/>
<line x1="767.5" y1="428" x2="767.5" y2="428.5" stroke="#1a4b9c" stroke-width="1"/>
<rect x="766.5" y="418.5" width="2" height="9" rx="0.6" fill="#fff" stroke="#1a4b9c" stroke-width="1.2"/>
<line x1="773.5" y1="414.3" x2="773.5" y2="432.7" stroke="#ea504c" stroke-width="1"/>
<rect x="772" y="418" width="3" height="6" fill="#ea504c"/>
<line x1="780.5" y1="418.0" x2="780.5" y2="421" stroke="#1a4b9c" stroke-width="1"/>
<line x1="780.5" y1="426" x2="780.5" y2="448.6" stroke="#1a4b9c" stroke-width="1"/>
<rect x="779.5" y="421.5" width="2" height="4" rx="0.6" fill="#fff" stroke="#1a4b9c" stroke-width="1.2"/>
<line x1="787.5" y1="411.2" x2="787.5" y2="442.4" stroke="#ea504c" stroke-width="1"/>
<rect x="786" y="423" width="3" height="11" fill="#ea504c"/>
<line x1="794.5" y1="405.2" x2="794.5" y2="412" stroke="#1a4b9c" stroke-width="1"/>
<line x1="794.5" y1="434" x2="794.5" y2="438.5" stroke="#1a4b9c" stroke-width="1"/>
<rect x="793.5" y="412.5" width="2" height="21" rx="0.6" fill="#fff" stroke="#1a4b9c" stroke-width="1.2"/>
<line x1="801.5" y1="386.3" x2="801.5" y2="400" stroke="#1a4b9c" stroke-width="1"/>
<line x1="801.5" y1="413" x2="801.5" y2="430.5" stroke="#1a4b9c" stroke-width="1"/>
<rect x="800.5" y="400.5" width="2" height="12" rx="0.6" fill="#fff" stroke="#1a4b9c" stroke-width="1.2"/>
<line x1="808.5" y1="397.3" x2="808.5" y2="416.5" stroke="#ea504c" stroke-width="1"/>
<rect x="807" y="400" width="3" height="6" fill="#ea504c"/>
<line x1="815.5" y1="397.3" x2="815.5" y2="419.5" stroke="#ea504c" stroke-width="1"/>
<rect x="814" y="406" width="3" height="6" fill="#ea504c"/>
<line x1="822.5" y1="378.2" x2="822.5" y2="397" stroke="#1a4b9c" stroke-width="1"/>
<line x1="822.5" y1="413" x2="822.5" y2="416.5" stroke="#1a4b9c" stroke-width="1"/>
<rect x="821.5" y="397.5" width="2" height="15" rx="0.6" fill="#fff" stroke="#1a4b9c" stroke-width="1.2"/>
<line x1="829.5" y1="385.0" x2="829.5" y2="433.6" stroke="#ea504c" stroke-width="1"/>
<rect x="828" y="397" width="3" height="34" fill="#ea504c"/>
<line x1="835.5" y1="424.4" x2="835.5" y2="442.4" stroke="#ea504c" stroke-width="1"/>
<rect x="834" y="429" width="3" height="7" fill="#ea504c"/>
<line x1="842.5" y1="436.3" x2="842.5" y2="471.5" stroke="#ea504c" stroke-width="1"/>
<rect x="841" y="437" width="3" height="25" fill="#ea504c"/>
<line x1="849.5" y1="449.2" x2="849.5" y2="455" stroke="#1a4b9c" stroke-width="1"/>
<line x1="849.5" y1="459" x2="849.5" y2="466.6" stroke="#1a4b9c" stroke-width="1"/>
<rect x="848.5" y="455.5" width="2" height="3" rx="0.6" fill="#fff" stroke="#1a4b9c" stroke-width="1.2"/>
<line x1="856.5" y1="452.0" x2="856.5" y2="468.5" stroke="#ea504c" stroke-width="1"/>
<rect x="855" y="454" width="3" height="4" fill="#ea504c"/>
<line x1="863.5" y1="447.2" x2="863.5" y2="502.6" stroke="#ea504c" stroke-width="1"/>
<rect x="862" y="458" width="3" height="40" fill="#ea504c"/>
<line x1="870.5" y1="476.1" x2="870.5" y2="478" stroke="#1a4b9c" stroke-width="1"/>
<line x1="870.5" y1="496" x2="870.5" y2="496.5" stroke="#1a4b9c" stroke-width="1"/>
<rect x="869.5" y="478.5" width="2" height="17" rx="0.6" fill="#fff" stroke="#1a4b9c" stroke-width="1.2"/>
<line x1="877.5" y1="470.0" x2="877.5" y2="472" stroke="#1a4b9c" stroke-width="1"/>
<line x1="877.5" y1="477" x2="877.5" y2="488.7" stroke="#1a4b9c" stroke-width="1"/>
<rect x="876.5" y="472.5" width="2" height="4" rx="0.6" fill="#fff" stroke="#1a4b9c" stroke-width="1.2"/>
<line x1="884.5" y1="431.3" x2="884.5" y2="438" stroke="#1a4b9c" stroke-width="1"/>
<line x1="884.5" y1="472" x2="884.5" y2="475.7" stroke="#1a4b9c" stroke-width="1"/>
<rect x="883.5" y="438.5" width="2" height="33" rx="0.6" fill="#fff" stroke="#1a4b9c" stroke-width="1.2"/>
<line x1="890.5" y1="426.2" x2="890.5" y2="437.8" stroke="#1a4b9c" stroke-width="1"/>
<rect x="889" y="436" width="3" height="2" fill="#1a4b9c"/>
<line x1="897.5" y1="425.1" x2="897.5" y2="434" stroke="#1a4b9c" stroke-width="1"/>
<line x1="897.5" y1="437" x2="897.5" y2="449.6" stroke="#1a4b9c" stroke-width="1"/>
<rect x="896.5" y="434.5" width="2" height="2" rx="0.6" fill="#fff" stroke="#1a4b9c" stroke-width="1.2"/>
<line x1="904.5" y1="414.3" x2="904.5" y2="419" stroke="#1a4b9c" stroke-width="1"/>
<line x1="904.5" y1="432" x2="904.5" y2="447.8" stroke="#1a4b9c" stroke-width="1"/>
<rect x="903.5" y="419.5" width="2" height="12" rx="0.6" fill="#fff" stroke="#1a4b9c" stroke-width="1.2"/>
<line x1="911.5" y1="395.2" x2="911.5" y2="399" stroke="#1a4b9c" stroke-width="1"/>
<line x1="911.5" y1="421" x2="911.5" y2="421.7" stroke="#1a4b9c" stroke-width="1"/>
<rect x="910.5" y="399.5" width="2" height="21" rx="0.6" fill="#fff" stroke="#1a4b9c" stroke-width="1.2"/>
<line x1="918.5" y1="367.1" x2="918.5" y2="377" stroke="#1a4b9c" stroke-width="1"/>
<line x1="918.5" y1="400" x2="918.5" y2="406.8" stroke="#1a4b9c" stroke-width="1"/>
<rect x="917.5" y="377.5" width="2" height="22" rx="0.6" fill="#fff" stroke="#1a4b9c" stroke-width="1.2"/>
<line x1="925.5" y1="375.2" x2="925.5" y2="406.8" stroke="#ea504c" stroke-width="1"/>
<rect x="924" y="390" width="3" height="6" fill="#ea504c"/>
<line x1="932.5" y1="379.9" x2="932.5" y2="382" stroke="#1a4b9c" stroke-width="1"/>
<line x1="932.5" y1="394" x2="932.5" y2="401.7" stroke="#1a4b9c" stroke-width="1"/>
<rect x="931.5" y="382.5" width="2" height="11" rx="0.6" fill="#fff" stroke="#1a4b9c" stroke-width="1.2"/>
<line x1="939.5" y1="372.2" x2="939.5" y2="394.8" stroke="#ea504c" stroke-width="1"/>
<rect x="938" y="384" width="3" height="3" fill="#ea504c"/>
<line x1="945.5" y1="332.0" x2="945.5" y2="340" stroke="#1a4b9c" stroke-width="1"/>
<line x1="945.5" y1="392" x2="945.5" y2="398.6" stroke="#1a4b9c" stroke-width="1"/>
<rect x="944.5" y="340.5" width="2" height="51" rx="0.6" fill="#fff" stroke="#1a4b9c" stroke-width="1.2"/>
<line x1="952.5" y1="321.2" x2="952.5" y2="355.6" stroke="#ea504c" stroke-width="1"/>
<rect x="951" y="337" width="3" height="19" fill="#ea504c"/>
<line x1="959.5" y1="318.2" x2="959.5" y2="340" stroke="#1a4b9c" stroke-width="1"/>
<line x1="959.5" y1="357" x2="959.5" y2="357.3" stroke="#1a4b9c" stroke-width="1"/>
<rect x="958.5" y="340.5" width="2" height="16" rx="0.6" fill="#fff" stroke="#1a4b9c" stroke-width="1.2"/>
<line x1="966.5" y1="327.9" x2="966.5" y2="351.8" stroke="#ea504c" stroke-width="1"/>
<rect x="965" y="339" width="3" height="4" fill="#ea504c"/>
<line x1="973.5" y1="331.0" x2="973.5" y2="334" stroke="#1a4b9c" stroke-width="1"/>
<line x1="973.5" y1="343" x2="973.5" y2="348.7" stroke="#1a4b9c" stroke-width="1"/>
<rect x="972.5" y="334.5" width="2" height="8" rx="0.6" fill="#fff" stroke="#1a4b9c" stroke-width="1.2"/>
<line x1="980.5" y1="331.0" x2="980.5" y2="372.8" stroke="#ea504c" stroke-width="1"/>
<rect x="979" y="333" width="3" height="16" fill="#ea504c"/>
<line x1="987.5" y1="335.0" x2="987.5" y2="388.6" stroke="#ea504c" stroke-width="1"/>
<rect x="986" y="348" width="3" height="35" fill="#ea504c"/>
<line x1="994.5" y1="375.1" x2="994.5" y2="417.4" stroke="#ea504c" stroke-width="1"/>
<rect x="993" y="379" width="3" height="21" fill="#ea504c"/>
<line x1="1001.5" y1="371.3" x2="1001.5" y2="373" stroke="#1a4b9c" stroke-width="1"/>
<line x1="1001.5" y1="406" x2="1001.5" y2="406.8" stroke="#1a4b9c" stroke-width="1"/>
<rect x="1000.5" y="373.5" width="2" height="32" rx="0.6" fill="#fff" stroke="#1a4b9c" stroke-width="1.2"/>
<line x1="1007.5" y1="349.4" x2="1007.5" y2="356" stroke="#1a4b9c" stroke-width="1"/>
<line x1="1007.5" y1="373" x2="1007.5" y2="377.6" stroke="#1a4b9c" stroke-width="1"/>
<rect x="1006.5" y="356.5" width="2" height="16" rx="0.6" fill="#fff" stroke="#1a4b9c" stroke-width="1.2"/>
<line x1="1014.5" y1="345.2" x2="1014.5" y2="348" stroke="#1a4b9c" stroke-width="1"/>
<line x1="1014.5" y1="355" x2="1014.5" y2="366.3" stroke="#1a4b9c" stroke-width="1"/>
<rect x="1013.5" y="348.5" width="2" height="6" rx="0.6" fill="#fff" stroke="#1a4b9c" stroke-width="1.2"/>
<line x1="1021.5" y1="341.1" x2="1021.5" y2="355.5" stroke="#1a4b9c" stroke-width="1"/>
<rect x="1020" y="345" width="3" height="1" fill="#1a4b9c"/>
<line x1="1028.5" y1="342.3" x2="1028.5" y2="401.6" stroke="#ea504c" stroke-width="1"/>
<rect x="1027" y="344" width="3" height="53" fill="#ea504c"/>
<line x1="1035.5" y1="368.4" x2="1035.5" y2="379" stroke="#1a4b9c" stroke-width="1"/>
<rect x="1034.5" y="379.5" width="2" height="18" rx="0.6" fill="#fff" stroke="#1a4b9c" stroke-width="1.2"/>
<line x1="1042.5" y1="370.3" x2="1042.5" y2="399.7" stroke="#ea504c" stroke-width="1"/>
<rect x="1041" y="374" width="3" height="25" fill="#ea504c"/>
<line x1="1049.5" y1="397.4" x2="1049.5" y2="451.5" stroke="#ea504c" stroke-width="1"/>
<rect x="1048" y="398" width="3" height="39" fill="#ea504c"/>
<line x1="1056.5" y1="399.1" x2="1056.5" y2="419" stroke="#1a4b9c" stroke-width="1"/>
<line x1="1056.5" y1="440" x2="1056.5" y2="441.9" stroke="#1a4b9c" stroke-width="1"/>
<rect x="1055.5" y="419.5" width="2" height="20" rx="0.6" fill="#fff" stroke="#1a4b9c" stroke-width="1.2"/>
<line x1="1062.5" y1="407.4" x2="1062.5" y2="436.6" stroke="#1a4b9c" stroke-width="1"/>
<rect x="1061" y="417" width="3" height="1" fill="#1a4b9c"/>
<line x1="1069.5" y1="373.4" x2="1069.5" y2="391" stroke="#1a4b9c" stroke-width="1"/>
<rect x="1068.5" y="391.5" width="2" height="24" rx="0.6" fill="#fff" stroke="#1a4b9c" stroke-width="1.2"/>
<line x1="1076.5" y1="365.3" x2="1076.5" y2="371" stroke="#1a4b9c" stroke-width="1"/>
<line x1="1076.5" y1="391" x2="1076.5" y2="398.5" stroke="#1a4b9c" stroke-width="1"/>
<rect x="1075.5" y="371.5" width="2" height="19" rx="0.6" fill="#fff" stroke="#1a4b9c" stroke-width="1.2"/>
<line x1="1083.5" y1="362.1" x2="1083.5" y2="382.4" stroke="#ea504c" stroke-width="1"/>
<rect x="1082" y="370" width="3" height="10" fill="#ea504c"/>
<line x1="1090.5" y1="350.0" x2="1090.5" y2="413.7" stroke="#ea504c" stroke-width="1"/>
<rect x="1089" y="377" width="3" height="20" fill="#ea504c"/>
<line x1="1097.5" y1="382.4" x2="1097.5" y2="517.6" stroke="#ea504c" stroke-width="1"/>
<rect x="1096" y="395" width="3" height="107" fill="#ea504c"/>
<line x1="1104.5" y1="449.3" x2="1104.5" y2="477" stroke="#1a4b9c" stroke-width="1"/>
<line x1="1104.5" y1="510" x2="1104.5" y2="525.7" stroke="#1a4b9c" stroke-width="1"/>
<rect x="1103.5" y="477.5" width="2" height="32" rx="0.6" fill="#fff" stroke="#1a4b9c" stroke-width="1.2"/>
<line x1="1111.5" y1="439.0" x2="1111.5" y2="472" stroke="#1a4b9c" stroke-width="1"/>
<line x1="1111.5" y1="485" x2="1111.5" y2="515.6" stroke="#1a4b9c" stroke-width="1"/>
<rect x="1110.5" y="472.5" width="2" height="12" rx="0.6" fill="#fff" stroke="#1a4b9c" stroke-width="1.2"/>
<line x1="1118.5" y1="424.1" x2="1118.5" y2="498.5" stroke="#ea504c" stroke-width="1"/>
<rect x="1117" y="475" width="3" height="8" fill="#ea504c"/>
<line x1="1124.5" y1="472.8" x2="1124.5" y2="501.7" stroke="#ea504c" stroke-width="1"/>
<rect x="1123" y="480" width="3" height="7" fill="#ea504c"/>
<line x1="1131.5" y1="482.9" x2="1131.5" y2="510.6" stroke="#ea504c" stroke-width="1"/>
<rect x="1130" y="486" width="3" height="9" fill="#ea504c"/>
<line x1="1138.5" y1="451.0" x2="1138.5" y2="500.0" stroke="#ea504c" stroke-width="1"/>
<rect x="1137" y="496" width="3" height="2" fill="#ea504c"/>
<line x1="1145.5" y1="464.9" x2="1145.5" y2="505.5" stroke="#ea504c" stroke-width="1"/>
<rect x="1144" y="495" width="3" height="6" fill="#ea504c"/>
<line x1="1152.5" y1="432.2" x2="1152.5" y2="443" stroke="#1a4b9c" stroke-width="1"/>
<rect x="1151.5" y="443.5" width="2" height="56" rx="0.6" fill="#fff" stroke="#1a4b9c" stroke-width="1.2"/>
<line x1="1159.5" y1="394.8" x2="1159.5" y2="399" stroke="#1a4b9c" stroke-width="1"/>
<line x1="1159.5" y1="438" x2="1159.5" y2="442.9" stroke="#1a4b9c" stroke-width="1"/>
<rect x="1158.5" y="399.5" width="2" height="38" rx="0.6" fill="#fff" stroke="#1a4b9c" stroke-width="1.2"/>
<line x1="1166.5" y1="371.9" x2="1166.5" y2="408.7" stroke="#ea504c" stroke-width="1"/>
<rect x="1165" y="399" width="3" height="7" fill="#ea504c"/>
<line x1="1173.5" y1="362.1" x2="1173.5" y2="371" stroke="#1a4b9c" stroke-width="1"/>
<line x1="1173.5" y1="399" x2="1173.5" y2="406.6" stroke="#1a4b9c" stroke-width="1"/>
<rect x="1172.5" y="371.5" width="2" height="27" rx="0.6" fill="#fff" stroke="#1a4b9c" stroke-width="1.2"/>
<line x1="1179.5" y1="347.8" x2="1179.5" y2="360" stroke="#1a4b9c" stroke-width="1"/>
<line x1="1179.5" y1="369" x2="1179.5" y2="383.7" stroke="#1a4b9c" stroke-width="1"/>
<rect x="1178.5" y="360.5" width="2" height="8" rx="0.6" fill="#fff" stroke="#1a4b9c" stroke-width="1.2"/>
<line x1="1186.5" y1="338.8" x2="1186.5" y2="342" stroke="#1a4b9c" stroke-width="1"/>
<line x1="1186.5" y1="360" x2="1186.5" y2="370.9" stroke="#1a4b9c" stroke-width="1"/>
<rect x="1185.5" y="342.5" width="2" height="17" rx="0.6" fill="#fff" stroke="#1a4b9c" stroke-width="1.2"/>
<line x1="1193.5" y1="327.1" x2="1193.5" y2="368.7" stroke="#ea504c" stroke-width="1"/>
<rect x="1192" y="340" width="3" height="18" fill="#ea504c"/>
<line x1="1200.5" y1="353.8" x2="1200.5" y2="379.8" stroke="#ea504c" stroke-width="1"/>
<rect x="1199" y="357" width="3" height="14" fill="#ea504c"/>
<line x1="1207.5" y1="366.6" x2="1207.5" y2="400.8" stroke="#ea504c" stroke-width="1"/>
<rect x="1206" y="368" width="3" height="11" fill="#ea504c"/>
<line x1="1214.5" y1="347.8" x2="1214.5" y2="374" stroke="#1a4b9c" stroke-width="1"/>
<line x1="1214.5" y1="377" x2="1214.5" y2="377.3" stroke="#1a4b9c" stroke-width="1"/>
<rect x="1213.5" y="374.5" width="2" height="2" rx="0.6" fill="#fff" stroke="#1a4b9c" stroke-width="1.2"/>
<line x1="1221.5" y1="363.8" x2="1221.5" y2="388.0" stroke="#ea504c" stroke-width="1"/>
<rect x="1220" y="369" width="3" height="15" fill="#ea504c"/>
<line x1="1228.5" y1="350.6" x2="1228.5" y2="352" stroke="#1a4b9c" stroke-width="1"/>
<line x1="1228.5" y1="382" x2="1228.5" y2="385.8" stroke="#1a4b9c" stroke-width="1"/>
<rect x="1227.5" y="352.5" width="2" height="29" rx="0.6" fill="#fff" stroke="#1a4b9c" stroke-width="1.2"/>
<line x1="1234.5" y1="345.2" x2="1234.5" y2="377.7" stroke="#ea504c" stroke-width="1"/>
<rect x="1233" y="351" width="3" height="24" fill="#ea504c"/>
<line x1="1241.5" y1="351.1" x2="1241.5" y2="391.7" stroke="#1a4b9c" stroke-width="1"/>
<rect x="1240" y="366" width="3" height="3" fill="#1a4b9c"/>
<line x1="1248.5" y1="354.2" x2="1248.5" y2="398.7" stroke="#ea504c" stroke-width="1"/>
<rect x="1247" y="367" width="3" height="18" fill="#ea504c"/>
<line x1="1255.5" y1="337.1" x2="1255.5" y2="344" stroke="#1a4b9c" stroke-width="1"/>
<rect x="1254.5" y="344.5" width="2" height="40" rx="0.6" fill="#fff" stroke="#1a4b9c" stroke-width="1.2"/>
<line x1="1262.5" y1="342.8" x2="1262.5" y2="406.5" stroke="#ea504c" stroke-width="1"/>
<rect x="1261" y="343" width="3" height="37" fill="#ea504c"/>
<line x1="1269.5" y1="369.2" x2="1269.5" y2="404.8" stroke="#ea504c" stroke-width="1"/>
<rect x="1268" y="376" width="3" height="23" fill="#ea504c"/>
<line x1="1276.5" y1="390.1" x2="1276.5" y2="440.8" stroke="#ea504c" stroke-width="1"/>
<rect x="1275" y="398" width="3" height="8" fill="#ea504c"/>
<line x1="1283.5" y1="392.3" x2="1283.5" y2="440.8" stroke="#ea504c" stroke-width="1"/>
<rect x="1282" y="403" width="3" height="31" fill="#ea504c"/>
<line x1="1290.5" y1="409.1" x2="1290.5" y2="411" stroke="#1a4b9c" stroke-width="1"/>
<line x1="1290.5" y1="434" x2="1290.5" y2="435.8" stroke="#1a4b9c" stroke-width="1"/>
<rect x="1289.5" y="411.5" width="2" height="22" rx="0.6" fill="#fff" stroke="#1a4b9c" stroke-width="1.2"/>
<line x1="1296.5" y1="399.1" x2="1296.5" y2="429.8" stroke="#ea504c" stroke-width="1"/>
<rect x="1295" y="412" width="3" height="18" fill="#ea504c"/>
<line x1="1303.5" y1="408.1" x2="1303.5" y2="452.9" stroke="#ea504c" stroke-width="1"/>
<rect x="1302" y="431" width="3" height="15" fill="#ea504c"/>
<line x1="1310.5" y1="413.1" x2="1310.5" y2="425" stroke="#1a4b9c" stroke-width="1"/>
<line x1="1310.5" y1="442" x2="1310.5" y2="447.6" stroke="#1a4b9c" stroke-width="1"/>
<rect x="1309.5" y="425.5" width="2" height="16" rx="0.6" fill="#fff" stroke="#1a4b9c" stroke-width="1.2"/>
<line x1="1317.5" y1="419" x2="1317.5" y2="434.8" stroke="#1a4b9c" stroke-width="1"/>
<rect x="1316.5" y="379.5" width="2" height="39" rx="0.6" fill="#fff" stroke="#1a4b9c" stroke-width="1.2"/>
<line x1="1324.5" y1="373.0" x2="1324.5" y2="405.8" stroke="#ea504c" stroke-width="1"/>
<rect x="1323" y="378" width="3" height="18" fill="#ea504c"/>
<line x1="1331.5" y1="352.1" x2="1331.5" y2="359" stroke="#1a4b9c" stroke-width="1"/>
<line x1="1331.5" y1="393" x2="1331.5" y2="393.4" stroke="#1a4b9c" stroke-width="1"/>
<rect x="1330.5" y="359.5" width="2" height="33" rx="0.6" fill="#fff" stroke="#1a4b9c" stroke-width="1.2"/>
<line x1="1338.5" y1="349.2" x2="1338.5" y2="377.7" stroke="#ea504c" stroke-width="1"/>
<rect x="1337" y="359" width="3" height="11" fill="#ea504c"/>
<line x1="1345.5" y1="367.0" x2="1345.5" y2="387.7" stroke="#ea504c" stroke-width="1"/>
<rect x="1344" y="369" width="3" height="4" fill="#ea504c"/>
<line x1="1351.5" y1="360.2" x2="1351.5" y2="383.7" stroke="#ea504c" stroke-width="1"/>
<rect x="1350" y="371" width="3" height="6" fill="#ea504c"/>
<line x1="1358.5" y1="370.2" x2="1358.5" y2="395.6" stroke="#ea504c" stroke-width="1"/>
<rect x="1357" y="376" width="3" height="19" fill="#ea504c"/>
<line x1="1365.5" y1="357.1" x2="1365.5" y2="360" stroke="#1a4b9c" stroke-width="1"/>
<line x1="1365.5" y1="397" x2="1365.5" y2="400.8" stroke="#1a4b9c" stroke-width="1"/>
<rect x="1364.5" y="360.5" width="2" height="36" rx="0.6" fill="#fff" stroke="#1a4b9c" stroke-width="1.2"/>
<line x1="1372.5" y1="343.2" x2="1372.5" y2="346" stroke="#1a4b9c" stroke-width="1"/>
<line x1="1372.5" y1="359" x2="1372.5" y2="363.7" stroke="#1a4b9c" stroke-width="1"/>
<rect x="1371.5" y="346.5" width="2" height="12" rx="0.6" fill="#fff" stroke="#1a4b9c" stroke-width="1.2"/>
<line x1="1379.5" y1="337.2" x2="1379.5" y2="383.9" stroke="#ea504c" stroke-width="1"/>
<rect x="1378" y="345" width="3" height="28" fill="#ea504c"/>
<line x1="1386.5" y1="366.1" x2="1386.5" y2="383.0" stroke="#ea504c" stroke-width="1"/>
<rect x="1385" y="371" width="3" height="3" fill="#ea504c"/>
<line x1="1393.5" y1="368.2" x2="1393.5" y2="388.9" stroke="#ea504c" stroke-width="1"/>
<rect x="1392" y="374" width="3" height="8" fill="#ea504c"/>
<line x1="1400.5" y1="345.2" x2="1400.5" y2="348" stroke="#1a4b9c" stroke-width="1"/>
<line x1="1400.5" y1="382" x2="1400.5" y2="385.7" stroke="#1a4b9c" stroke-width="1"/>
<rect x="1399.5" y="348.5" width="2" height="33" rx="0.6" fill="#fff" stroke="#1a4b9c" stroke-width="1.2"/>
<line x1="1407.5" y1="318.3" x2="1407.5" y2="324" stroke="#1a4b9c" stroke-width="1"/>
<line x1="1407.5" y1="350" x2="1407.5" y2="352.2" stroke="#1a4b9c" stroke-width="1"/>
<rect x="1406.5" y="324.5" width="2" height="25" rx="0.6" fill="#fff" stroke="#1a4b9c" stroke-width="1.2"/>
<line x1="1413.5" y1="319.2" x2="1413.5" y2="338.8" stroke="#ea504c" stroke-width="1"/>
<rect x="1412" y="324" width="3" height="2" fill="#ea504c"/>
<line x1="1420.5" y1="263.5" x2="1420.5" y2="265" stroke="#1a4b9c" stroke-width="1"/>
<rect x="1419.5" y="265.5" width="2" height="59" rx="0.6" fill="#fff" stroke="#1a4b9c" stroke-width="1.2"/>
<line x1="1427.5" y1="258.2" x2="1427.5" y2="263" stroke="#1a4b9c" stroke-width="1"/>
<line x1="1427.5" y1="266" x2="1427.5" y2="278.7" stroke="#1a4b9c" stroke-width="1"/>
<rect x="1426.5" y="263.5" width="2" height="2" rx="0.6" fill="#fff" stroke="#1a4b9c" stroke-width="1.2"/>
<line x1="1434.5" y1="264.4" x2="1434.5" y2="303.7" stroke="#ea504c" stroke-width="1"/>
<rect x="1433" y="265" width="3" height="30" fill="#ea504c"/>
<line x1="1441.5" y1="263.5" x2="1441.5" y2="264" stroke="#1a4b9c" stroke-width="1"/>
<line x1="1441.5" y1="296" x2="1441.5" y2="300.6" stroke="#1a4b9c" stroke-width="1"/>
<rect x="1440.5" y="264.5" width="2" height="31" rx="0.6" fill="#fff" stroke="#1a4b9c" stroke-width="1.2"/>
<line x1="1448.5" y1="263.5" x2="1448.5" y2="283.7" stroke="#ea504c" stroke-width="1"/>
<rect x="1447" y="264" width="3" height="16" fill="#ea504c"/>
<line x1="1455.5" y1="266.2" x2="1455.5" y2="300.6" stroke="#1a4b9c" stroke-width="1"/>
<rect x="1454" y="278.0" width="3" height="1" fill="#1a4b9c" opacity="0.45"/>
<line x1="1462.5" y1="276.9" x2="1462.5" y2="305.8" stroke="#ea504c" stroke-width="1"/>
<rect x="1461" y="278" width="3" height="6" fill="#ea504c"/>
<line x1="1468.5" y1="248.1" x2="1468.5" y2="252" stroke="#1a4b9c" stroke-width="1"/>
<line x1="1468.5" y1="285" x2="1468.5" y2="285.8" stroke="#1a4b9c" stroke-width="1"/>
<rect x="1467.5" y="252.5" width="2" height="32" rx="0.6" fill="#fff" stroke="#1a4b9c" stroke-width="1.2"/>
</g>
<rect x="21" y="260" width="1851" height="4" fill="#000"/>
<g id="arrows" fill="#000" stroke="#000">
<line x1="436.5" y1="205.0" x2="436.5" y2="227.2" stroke-width="1.4"/>
<path d="M431.3,226.2 L441.7,226.2 L436.5,236.4 Z" stroke="none"/>
<line x1="533.5" y1="208.0" x2="533.5" y2="230.2" stroke-width="1.4"/>
<path d="M528.3,229.2 L538.7,229.2 L533.5,239.0 Z" stroke="none"/>
<line x1="656.5" y1="209.3" x2="656.5" y2="231.3" stroke-width="1.4"/>
<path d="M651.3,230.3 L661.7,230.3 L656.5,240.4 Z" stroke="none"/>
<line x1="1420.5" y1="208.9" x2="1420.5" y2="231.0" stroke-width="1.4"/>
<path d="M1415.3,230.0 L1425.7,230.0 L1420.5,240.8 Z" stroke="none"/>
</g>
<g id="paxis" font-size="11" fill="#767676">
<text x="1876.5" y="92.2" text-anchor="end">390.28</text>
<text x="1876.5" y="145.3" text-anchor="end">309.83</text>
<text x="1876.5" y="198.4" text-anchor="end">245.96</text>
<text x="1876.5" y="304.7" text-anchor="end">155.01</text>
<text x="1876.5" y="357.8" text-anchor="end">123.06</text>
<text x="1876.5" y="410.9" text-anchor="end">97.69</text>
<text x="1876.5" y="464.0" text-anchor="end">77.55</text>
<text x="1876.5" y="517.2" text-anchor="end">61.56</text>
<text x="1876.5" y="570.3" text-anchor="end">48.87</text>
<text x="1876.5" y="623.4" text-anchor="end">38.80</text>
<text x="1876.5" y="676.5" text-anchor="end">30.80</text>
<text x="1876.5" y="729.6" text-anchor="end">24.45</text>
<text x="1876.5" y="782.8" text-anchor="end">19.41</text>
<text x="1871.8" y="855.2" text-anchor="end">75.00</text>
<text x="1871.8" y="897.0" text-anchor="end">50.00</text>
<text x="1871.8" y="939.3" text-anchor="end">25.00</text>
</g>
<text transform="translate(1824.6,255) scale(0.89,1)" font-size="11" font-weight="bold" fill="#000" text-anchor="end">188.35</text>
<rect x="1832" y="242.2" width="49" height="18.8" rx="3" fill="#7b7b7b"/>
<text x="1856.8" y="255" font-size="11" fill="#fff" text-anchor="middle">196.53</text>
<g id="taxis" font-size="11" fill="#767676" text-anchor="middle">
<line x1="21" y1="936.6" x2="1871.6" y2="936.6" stroke="#8a8a8a" stroke-width="1.2"/>
<line x1="92.5" y1="936.6" x2="92.5" y2="945.4" stroke="#8a8a8a" stroke-width="1.1"/>
<text x="93.1" y="955.2">2008</text>
<line x1="175.1" y1="936.6" x2="175.1" y2="945.4" stroke="#8a8a8a" stroke-width="1.1"/>
<text x="175.7" y="955.2">2009</text>
<line x1="257.7" y1="936.6" x2="257.7" y2="945.4" stroke="#8a8a8a" stroke-width="1.1"/>
<text x="258.3" y="955.2">2010</text>
<line x1="340.3" y1="936.6" x2="340.3" y2="945.4" stroke="#8a8a8a" stroke-width="1.1"/>
<text x="340.9" y="955.2">2011</text>
<line x1="422.9" y1="936.6" x2="422.9" y2="945.4" stroke="#8a8a8a" stroke-width="1.1"/>
<text x="423.5" y="955.2">2012</text>
<line x1="505.5" y1="936.6" x2="505.5" y2="945.4" stroke="#8a8a8a" stroke-width="1.1"/>
<text x="506.1" y="955.2">2013</text>
<line x1="588.1" y1="936.6" x2="588.1" y2="945.4" stroke="#8a8a8a" stroke-width="1.1"/>
<text x="588.7" y="955.2">2014</text>
<line x1="670.7" y1="936.6" x2="670.7" y2="945.4" stroke="#8a8a8a" stroke-width="1.1"/>
<text x="671.3" y="955.2">2015</text>
<line x1="753.3" y1="936.6" x2="753.3" y2="945.4" stroke="#8a8a8a" stroke-width="1.1"/>
<text x="753.9" y="955.2">2016</text>
<line x1="835.9" y1="936.6" x2="835.9" y2="945.4" stroke="#8a8a8a" stroke-width="1.1"/>
<text x="836.5" y="955.2">2017</text>
<line x1="918.5" y1="936.6" x2="918.5" y2="945.4" stroke="#8a8a8a" stroke-width="1.1"/>
<text x="919.1" y="955.2">2018</text>
<line x1="1001.1" y1="936.6" x2="1001.1" y2="945.4" stroke="#8a8a8a" stroke-width="1.1"/>
<text x="1001.7" y="955.2">2019</text>
<line x1="1083.7" y1="936.6" x2="1083.7" y2="945.4" stroke="#8a8a8a" stroke-width="1.1"/>
<text x="1084.3" y="955.2">2020</text>
<line x1="1166.3" y1="936.6" x2="1166.3" y2="945.4" stroke="#8a8a8a" stroke-width="1.1"/>
<text x="1166.9" y="955.2">2021</text>
<line x1="1248.9" y1="936.6" x2="1248.9" y2="945.4" stroke="#8a8a8a" stroke-width="1.1"/>
<text x="1249.5" y="955.2">2022</text>
<line x1="1331.5" y1="936.6" x2="1331.5" y2="945.4" stroke="#8a8a8a" stroke-width="1.1"/>
<text x="1332.1" y="955.2">2023</text>
<line x1="1414.1" y1="936.6" x2="1414.1" y2="945.4" stroke="#8a8a8a" stroke-width="1.1"/>
<text x="1414.7" y="955.2">2024</text>
<line x1="1496.7" y1="936.6" x2="1496.7" y2="945.4" stroke="#8a8a8a" stroke-width="1.1"/>
<text x="1497.3" y="955.2">2025</text>
<line x1="1579.3" y1="936.6" x2="1579.3" y2="945.4" stroke="#8a8a8a" stroke-width="1.1"/>
<text x="1579.9" y="955.2">2026</text>
<line x1="1661.9" y1="936.6" x2="1661.9" y2="945.4" stroke="#8a8a8a" stroke-width="1.1"/>
<text x="1662.5" y="955.2">2027</text>
<line x1="1744.5" y1="936.6" x2="1744.5" y2="945.4" stroke="#8a8a8a" stroke-width="1.1"/>
<text x="1745.1" y="955.2">2028</text>
<line x1="1827.1" y1="936.6" x2="1827.1" y2="945.4" stroke="#8a8a8a" stroke-width="1.1"/>
<text x="1827.7" y="955.2">2029</text>
</g>
<text transform="translate(1872.2,932.8) scale(0.9,1)" font-size="11" fill="#7a7a7a" text-anchor="end" style="font-family:'Liberation Sans',sans-serif">Your local time zone</text>
<g id="logo" fill="none" stroke="#3c5d80" stroke-width="0.9">
<circle cx="27.0" cy="29.2" r="1.7"/>
<circle cx="38.4" cy="27.4" r="2.0"/>
<circle cx="34.0" cy="31.8" r="1.6"/>
<circle cx="22.3" cy="36.6" r="2.0"/>
<circle cx="29.8" cy="36.9" r="1.7"/>
<circle cx="35.2" cy="39.2" r="1.6"/>
<circle cx="42.3" cy="41.8" r="2.1"/>
<circle cx="26.8" cy="44.4" r="2.2"/>
<path d="M27.5,30.8 L29.3,35.3 M29.2,38.5 L27.5,42.3"/>
</g>
<text x="50.6" y="43.2" font-size="24.2" font-weight="bold" fill="#0c0c0c" style="font-family:'Liberation Sans',sans-serif">Trend</text>
<text x="116.2" y="43.2" font-size="23" font-weight="200" fill="#1a1a1a" stroke="#1a1a1a" stroke-width="0.3" style="font-family:'DejaVu Sans','Liberation Sans',sans-serif">Spider</text>
<text transform="translate(203.2,39.9) scale(0.9616,1)" font-size="12.2" fill="#222">Sep 28, 2024 12:04PM EDT</text>
<text transform="translate(22.3,71.9) scale(0.951,1)" font-size="12.2" fill="#222">RL, Monthly, Hollow Candles chart (Logarithmic scale)</text>
<text x="20" y="976.3" font-size="10" fill="#111" style="font-family:'Liberation Sans',sans-serif">©2024 TrendSpider</text>
</svg></body></html>
